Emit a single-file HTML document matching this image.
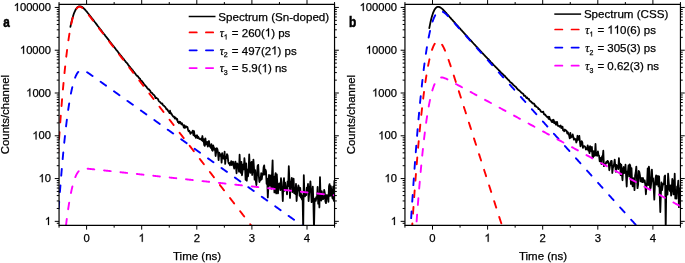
<!DOCTYPE html><html><head><meta charset="utf-8"><style>html,body{margin:0;padding:0;background:#fff;overflow:hidden}svg{display:block;will-change:transform}text{font-family:"Liberation Sans",sans-serif;stroke:#000;stroke-width:0.25px}</style></head><body>
<svg width="685" height="263" viewBox="0 0 685 263">
<defs>
<clipPath id="clipa"><rect x="59.05" y="4.35" width="275.5" height="221"/></clipPath>
<clipPath id="clipb"><rect x="404.95" y="4.35" width="275.5" height="221"/></clipPath>
</defs>
<rect width="685" height="263" fill="#fff"/>
<g clip-path="url(#clipa)" fill="none" stroke-width="1.9" stroke-linecap="round" stroke-linejoin="round">
<path d="M70.4,26.87 L71,23.92 L71.6,21.43 L72.2,19.05 L72.8,16.92 L73.4,15.02 L74,13.28 L74.6,11.82 L75.2,10.51 L75.8,9.46 L76.4,8.5 L77,7.74 L77.6,7.15 L78.2,6.72 L78.8,6.43 L79.4,6.3 L80,6.29 L80.6,6.38 L81.2,6.6 L81.8,6.88 L82.4,7.26 L83,7.73 L83.6,8.24 L84.2,8.79 L84.8,9.41 L85.4,10.08 L86,10.79 L86.6,11.46 L87.2,12.19 L87.8,12.96 L88.4,13.68 L89,14.46 L89.6,15.25 L90.2,16.03 L90.8,16.8 L91.4,17.59 L92,18.3 L92.6,19.17 L93.2,19.91 L93.8,20.67 L94.4,21.51 L95,22.31 L95.6,23.06 L96.2,23.82 L96.8,24.64 L97.4,25.42 L98,26.25 L98.6,27.01 L99.2,27.78 L99.8,28.59 L100.4,29.33 L101,30.08 L101.6,30.92 L102.2,31.7 L102.8,32.45 L103.4,33.2 L104,34.03 L104.6,34.68 L105.2,35.6 L105.8,36.37 L106.4,37.04 L107,37.9 L107.6,38.62 L108.2,39.49 L108.8,40.11 L109.4,40.94 L110,41.81 L110.6,42.6 L111.2,43.17 L111.8,44.05 L112.4,44.87 L113,45.58 L113.6,46.48 L114.2,47.07 L114.8,47.95 L115.4,48.61 L116,49.55 L116.6,50.22 L117.2,50.95 L117.8,51.59 L118.4,52.63 L119,53.32 L119.6,54.08 L120.2,54.88 L120.8,55.57 L121.4,56.23 L122,56.97 L122.6,57.72 L123.2,58.69 L123.8,59.14 L124.4,59.99 L125,60.78 L125.6,61.59 L126.2,62.37 L126.8,62.89 L127.4,63.57 L128,64.55 L128.6,65.44 L129.2,66.13 L129.8,66.8 L130.4,67.47 L131,68.3 L131.6,68.95 L132.2,69.85 L132.8,70.32 L133.4,71.22 L134,71.91 L134.6,72.74 L135.2,73.42 L135.8,74.54 L136.4,75.1 L137,75.83 L137.6,75.84 L138.2,76.93 L138.8,77.59 L139.4,78.55 L140,78.61 L140.6,80.12 L141.2,80.82 L141.8,80.96 L142.4,81.75 L143,82.5 L143.6,83.44 L144.2,84.29 L144.8,85.35 L145.4,85.47 L146,86.44 L146.6,86.97 L147.2,88.12 L147.8,88.53 L148.4,89.41 L149,89.31 L149.6,90.32 L150.2,90.77 L150.8,92.24 L151.4,92.66 L152,92.99 L152.6,93.6 L153.2,94.64 L153.8,94.83 L154.4,95.39 L155,96.67 L155.6,98.12 L156.2,97.69 L156.8,98.2 L157.4,98.53 L158,99.09 L158.6,100.68 L159.2,101.49 L159.8,101.75 L160.4,102.55 L161,103.1 L161.6,103.75 L162.2,103.38 L162.8,104.67 L163.4,105.65 L164,105.71 L164.6,106.53 L165.2,106.92 L165.8,107.87 L166.4,109.25 L167,109.05 L167.6,109.85 L168.2,111.12 L168.8,111.63 L169.4,112.97 L170,110.67 L170.6,113.63 L171.2,113.2 L171.8,114.32 L172.4,115.46 L173,116.26 L173.6,116.83 L174.2,116.72 L174.8,118.52 L175.4,117.47 L176,118.2 L176.6,119.63 L177.2,118.9 L177.8,122.07 L178.4,121.6 L179,123.31 L179.6,121.74 L180.2,121.87 L180.8,123.06 L181.4,124.22 L182,123.25 L182.6,124.97 L183.2,125.08 L183.8,127.49 L184.4,125.26 L185,127.97 L185.6,126.33 L186.2,126.38 L186.8,127.26 L187.4,127.03 L188,129.58 L188.6,131.29 L189.2,130.66 L189.8,131.82 L190.4,133.78 L191,132.37 L191.6,132.78 L192.2,132.51 L192.8,130.56 L193.4,135.19 L194,131.17 L194.6,136.06 L195.2,135.48 L195.8,137.89 L196.4,136.35 L197,135.26 L197.6,138.1 L198.2,136.73 L198.8,138.03 L199.4,138.98 L200,139.07 L200.6,139.41 L201.2,138.36 L201.8,140.34 L202.4,136.03 L203,141.33 L203.6,139.15 L204.2,145.04 L204.8,145.86 L205.4,138.36 L206,144.33 L206.6,144.1 L207.2,141.97 L207.8,146.6 L208.4,144.45 L209,141.03 L209.6,145.87 L210.2,146.65 L210.8,147.8 L211.4,144.1 L212,150.03 L212.6,150.8 L213.2,145.48 L213.8,147.47 L214.4,149.81 L215,148.55 L215.6,156 L216.2,151.95 L216.8,148.1 L217.4,149.27 L218,152.35 L218.6,160.19 L219.2,152.69 L219.8,154.19 L220.4,155.87 L221,154.41 L221.6,162.7 L222.2,153.17 L222.8,158.35 L223.4,156.71 L224,158.76 L224.6,151.77 L225.2,163.84 L225.8,157.14 L226.4,158.19 L227,154.11 L227.6,155.39 L228.2,161.43 L228.8,163.53 L229.4,163 L230,165.3 L230.6,163.66 L231.2,161.15 L231.8,164.99 L232.4,164.34 L233,161.58 L233.6,165.72 L234.2,168.66 L234.8,164.26 L235.4,161.54 L236,167.27 L236.6,173.32 L237.2,163.35 L237.8,164.37 L238.4,164.45 L239,171.75 L239.6,154.71 L240.2,168.16 L240.8,172.84 L241.4,161.78 L242,175.24 L242.6,170.5 L243.2,164.31 L243.8,169.39 L244.4,158.23 L245,165.04 L245.6,179.73 L246.2,163.29 L246.8,180.72 L247.4,169.58 L248,176.47 L248.6,171.05 L249.2,154.5 L249.8,167.11 L250.4,172.9 L251,163.19 L251.6,161.87 L252.2,175 L252.8,167.76 L253.4,159.62 L254,167.95 L254.6,179.64 L255.2,170.21 L255.8,180.71 L256.4,185.03 L257,175.15 L257.6,165.99 L258.2,164.87 L258.8,175.55 L259.4,182.03 L260,178.14 L260.6,180.31 L261.2,173.24 L261.8,179.16 L262.4,173.54 L263,174.99 L263.6,167.37 L264.2,165.34 L264.8,174.5 L265.4,169.65 L266,171.11 L266.6,183.75 L267.2,178.56 L267.8,197.37 L268.4,186.23 L269,175.01 L269.6,185.71 L270.2,183.08 L270.8,175.3 L271.4,188.62 L272,175.03 L272.6,160.38 L273.2,187.22 L273.8,177.01 L274.4,192.38 L275,177.19 L275.6,173.08 L276.2,193.46 L276.8,174.38 L277.4,184.75 L278,193.44 L278.6,184.57 L279.2,183.34 L279.8,184.9 L280.4,190.11 L281,178.03 L281.6,188.96 L282.2,188.93 L282.8,201.07 L283.4,182.65 L284,178.13 L284.6,190.79 L285.2,182.73 L285.8,188.12 L286.4,187.24 L287,194.47 L287.6,181.34 L288.2,186.13 L288.8,166.23 L289.4,179.97 L290,197.85 L290.6,182.01 L291.2,182.02 L291.8,177.97 L292.4,192.02 L293,189.45 L293.6,178.71 L294.2,193.09 L294.8,190.48 L295.4,194 L296,183.79 L296.6,200.99 L297.2,192.11 L297.8,188.51 L298.4,185.38 L299,187.76 L299.6,195.74 L300.2,187.84 L300.8,197.51 L301.4,194.26 L302,199.6 L302.6,196.12 L303.2,230.35 L303.8,175.26 L304.4,193 L305,196.46 L305.6,192.32 L306.2,195.12 L306.8,187.61 L307.4,188.47 L308,184.01 L308.6,201.07 L309.2,193 L309.8,188.02 L310.4,181.28 L311,191.01 L311.6,202.17 L312.2,195.61 L312.8,186.66 L313.4,202.4 L314,230.35 L314.6,199.55 L315.2,198.34 L315.8,200.93 L316.4,196.86 L317,198.53 L317.6,186.99 L318.2,203.64 L318.8,195.11 L319.4,207.39 L320,177.05 L320.6,198.6 L321.2,200.56 L321.8,191.17 L322.4,197.12 L323,199.22 L323.6,198.13 L324.2,189.88 L324.8,193.2 L325.4,201.37 L326,203.2 L326.6,195.26 L327.2,195.18 L327.8,196.09 L328.4,201.85 L329,186.26 L329.6,184.09 L330.2,195.84 L330.8,186.03 L331.4,190.33 L332,195.78 L332.6,198.53 L333.2,186.56 L333.8,200.82 L334.4,180.96 L335,199.2" stroke="#000" stroke-width="1.8"/>
<path d="M57.05,170.06 L57.55,162.06 L58.05,154.27 L58.55,146.7 L59.05,139.34 L59.55,132.2 L60.05,125.27 L60.55,118.55 L61.05,112.04 L61.55,105.75 L62.05,99.67 L62.55,93.8 L63.05,88.14 L63.55,82.68 L64.05,77.44 L64.55,72.4 L65.05,67.56 L65.55,62.93 L66.05,58.5 L66.55,54.28 L67.05,50.25 L67.55,46.42 L68.05,42.79 L68.55,39.35 L69.05,36.11 L69.55,33.06 L70.05,30.19 L70.55,27.51 L71.05,25.02 L71.55,22.7 L72.05,20.57 L72.55,18.6 L73.05,16.81 L73.55,15.18 L74.05,13.71 L74.55,12.4 L75.05,11.25 L75.55,10.24 L76.05,9.37 L76.55,8.64 L77.05,8.04 L77.55,7.57 L78.05,7.21 L78.55,6.96 L79.05,6.82 L79.55,6.77 L80.05,6.81 L80.55,6.93 L81.05,7.13 L81.55,7.4 L82.05,7.72 L82.55,8.1 L83.05,8.52 L83.55,8.99 L84.05,9.48 L84.55,10.01 L85.05,10.56 L85.55,11.14 L86.05,11.73 L86.55,12.33 L87.05,12.94 L87.55,13.57 L88.05,14.2 L88.55,14.83 L89.05,15.47 L89.55,16.11 L90.05,16.75 L90.55,17.39 L91.05,18.04 L91.55,18.69 L92.05,19.33 L92.55,19.98 L93.05,20.63 L93.55,21.27 L94.05,21.92 L94.55,22.57 L95.05,23.22 L95.55,23.87 L96.05,24.51 L96.55,25.16 L97.05,25.81 L97.55,26.46 L98.05,27.1 L98.55,27.75 L99.05,28.4 L99.55,29.05 L100.05,29.7 L100.55,30.34 L101.05,30.99 L101.55,31.64 L102.05,32.29 L102.55,32.94 L103.05,33.58 L103.55,34.23 L104.05,34.88 L104.55,35.53 L105.05,36.17 L105.55,36.82 L106.05,37.47 L106.55,38.12 L107.05,38.77 L107.55,39.41 L108.05,40.06 L108.55,40.71 L109.05,41.36 L109.55,42 L110.05,42.65 L110.55,43.3 L111.05,43.95 L111.55,44.6 L112.05,45.24 L112.55,45.89 L113.05,46.54 L113.55,47.19 L114.05,47.83 L114.55,48.48 L115.05,49.13 L115.55,49.78 L116.05,50.43 L116.55,51.07 L117.05,51.72 L117.55,52.37 L118.05,53.02 L118.55,53.67 L119.05,54.31 L119.55,54.96 L120.05,55.61 L120.55,56.26 L121.05,56.9 L121.55,57.55 L122.05,58.2 L122.55,58.85 L123.05,59.5 L123.55,60.14 L124.05,60.79 L124.55,61.44 L125.05,62.09 L125.55,62.73 L126.05,63.38 L126.55,64.03 L127.05,64.68 L127.55,65.33 L128.05,65.97 L128.55,66.62 L129.05,67.27 L129.55,67.92 L130.05,68.57 L130.55,69.21 L131.05,69.86 L131.55,70.51 L132.05,71.16 L132.55,71.8 L133.05,72.45 L133.55,73.1 L134.05,73.75 L134.55,74.4 L135.05,75.04 L135.55,75.69 L136.05,76.34 L136.55,76.99 L137.05,77.63 L137.55,78.28 L138.05,78.93 L138.55,79.58 L139.05,80.23 L139.55,80.87 L140.05,81.52 L140.55,82.17 L141.05,82.82 L141.55,83.47 L142.05,84.11 L142.55,84.76 L143.05,85.41 L143.55,86.06 L144.05,86.7 L144.55,87.35 L145.05,88 L145.55,88.65 L146.05,89.3 L146.55,89.94 L147.05,90.59 L147.55,91.24 L148.05,91.89 L148.55,92.53 L149.05,93.18 L149.55,93.83 L150.05,94.48 L150.55,95.13 L151.05,95.77 L151.55,96.42 L152.05,97.07 L152.55,97.72 L153.05,98.37 L153.55,99.01 L154.05,99.66 L154.55,100.31 L155.05,100.96 L155.55,101.6 L156.05,102.25 L156.55,102.9 L157.05,103.55 L157.55,104.2 L158.05,104.84 L158.55,105.49 L159.05,106.14 L159.55,106.79 L160.05,107.43 L160.55,108.08 L161.05,108.73 L161.55,109.38 L162.05,110.03 L162.55,110.67 L163.05,111.32 L163.55,111.97 L164.05,112.62 L164.55,113.26 L165.05,113.91 L165.55,114.56 L166.05,115.21 L166.55,115.86 L167.05,116.5 L167.55,117.15 L168.05,117.8 L168.55,118.45 L169.05,119.1 L169.55,119.74 L170.05,120.39 L170.55,121.04 L171.05,121.69 L171.55,122.33 L172.05,122.98 L172.55,123.63 L173.05,124.28 L173.55,124.93 L174.05,125.57 L174.55,126.22 L175.05,126.87 L175.55,127.52 L176.05,128.16 L176.55,128.81 L177.05,129.46 L177.55,130.11 L178.05,130.76 L178.55,131.4 L179.05,132.05 L179.55,132.7 L180.05,133.35 L180.55,134 L181.05,134.64 L181.55,135.29 L182.05,135.94 L182.55,136.59 L183.05,137.23 L183.55,137.88 L184.05,138.53 L184.55,139.18 L185.05,139.83 L185.55,140.47 L186.05,141.12 L186.55,141.77 L187.05,142.42 L187.55,143.06 L188.05,143.71 L188.55,144.36 L189.05,145.01 L189.55,145.66 L190.05,146.3 L190.55,146.95 L191.05,147.6 L191.55,148.25 L192.05,148.9 L192.55,149.54 L193.05,150.19 L193.55,150.84 L194.05,151.49 L194.55,152.13 L195.05,152.78 L195.55,153.43 L196.05,154.08 L196.55,154.73 L197.05,155.37 L197.55,156.02 L198.05,156.67 L198.55,157.32 L199.05,157.96 L199.55,158.61 L200.05,159.26 L200.55,159.91 L201.05,160.56 L201.55,161.2 L202.05,161.85 L202.55,162.5 L203.05,163.15 L203.55,163.79 L204.05,164.44 L204.55,165.09 L205.05,165.74 L205.55,166.39 L206.05,167.03 L206.55,167.68 L207.05,168.33 L207.55,168.98 L208.05,169.63 L208.55,170.27 L209.05,170.92 L209.55,171.57 L210.05,172.22 L210.55,172.86 L211.05,173.51 L211.55,174.16 L212.05,174.81 L212.55,175.46 L213.05,176.1 L213.55,176.75 L214.05,177.4 L214.55,178.05 L215.05,178.69 L215.55,179.34 L216.05,179.99 L216.55,180.64 L217.05,181.29 L217.55,181.93 L218.05,182.58 L218.55,183.23 L219.05,183.88 L219.55,184.53 L220.05,185.17 L220.55,185.82 L221.05,186.47 L221.55,187.12 L222.05,187.76 L222.55,188.41 L223.05,189.06 L223.55,189.71 L224.05,190.36 L224.55,191 L225.05,191.65 L225.55,192.3 L226.05,192.95 L226.55,193.59 L227.05,194.24 L227.55,194.89 L228.05,195.54 L228.55,196.19 L229.05,196.83 L229.55,197.48 L230.05,198.13 L230.55,198.78 L231.05,199.43 L231.55,200.07 L232.05,200.72 L232.55,201.37 L233.05,202.02 L233.55,202.66 L234.05,203.31 L234.55,203.96 L235.05,204.61 L235.55,205.26 L236.05,205.9 L236.55,206.55 L237.05,207.2 L237.55,207.85 L238.05,208.49 L238.55,209.14 L239.05,209.79 L239.55,210.44 L240.05,211.09 L240.55,211.73 L241.05,212.38 L241.55,213.03 L242.05,213.68 L242.55,214.32 L243.05,214.97 L243.55,215.62 L244.05,216.27 L244.55,216.92 L245.05,217.56 L245.55,218.21 L246.05,218.86 L246.55,219.51 L247.05,220.16 L247.55,220.8 L248.05,221.45 L248.55,222.1 L249.05,222.75 L249.55,223.39 L250.05,224.04 L250.55,224.69 L251.05,225.34 L251.55,225.99 L252.05,226.63 L252.55,227.28 L253.05,227.93 L253.55,228.58 L254.05,229.22 L254.55,229.87 L255.05,230.35 L255.55,230.35 L256.05,230.35 L256.55,230.35 L257.05,230.35 L257.55,230.35 L258.05,230.35 L258.55,230.35 L259.05,230.35 L259.55,230.35 L260.05,230.35 L260.55,230.35 L261.05,230.35 L261.55,230.35 L262.05,230.35 L262.55,230.35 L263.05,230.35 L263.55,230.35 L264.05,230.35 L264.55,230.35 L265.05,230.35 L265.55,230.35 L266.05,230.35 L266.55,230.35 L267.05,230.35 L267.55,230.35 L268.05,230.35 L268.55,230.35 L269.05,230.35 L269.55,230.35 L270.05,230.35 L270.55,230.35 L271.05,230.35 L271.55,230.35 L272.05,230.35 L272.55,230.35 L273.05,230.35 L273.55,230.35 L274.05,230.35 L274.55,230.35 L275.05,230.35 L275.55,230.35 L276.05,230.35 L276.55,230.35 L277.05,230.35 L277.55,230.35 L278.05,230.35 L278.55,230.35 L279.05,230.35 L279.55,230.35 L280.05,230.35 L280.55,230.35 L281.05,230.35 L281.55,230.35 L282.05,230.35 L282.55,230.35 L283.05,230.35 L283.55,230.35 L284.05,230.35 L284.55,230.35 L285.05,230.35 L285.55,230.35 L286.05,230.35 L286.55,230.35 L287.05,230.35 L287.55,230.35 L288.05,230.35 L288.55,230.35 L289.05,230.35 L289.55,230.35 L290.05,230.35 L290.55,230.35 L291.05,230.35 L291.55,230.35 L292.05,230.35 L292.55,230.35 L293.05,230.35 L293.55,230.35 L294.05,230.35 L294.55,230.35 L295.05,230.35 L295.55,230.35 L296.05,230.35 L296.55,230.35 L297.05,230.35 L297.55,230.35 L298.05,230.35 L298.55,230.35 L299.05,230.35 L299.55,230.35 L300.05,230.35 L300.55,230.35 L301.05,230.35 L301.55,230.35 L302.05,230.35 L302.55,230.35 L303.05,230.35 L303.55,230.35 L304.05,230.35 L304.55,230.35 L305.05,230.35 L305.55,230.35 L306.05,230.35 L306.55,230.35 L307.05,230.35 L307.55,230.35 L308.05,230.35 L308.55,230.35 L309.05,230.35 L309.55,230.35 L310.05,230.35 L310.55,230.35 L311.05,230.35 L311.55,230.35 L312.05,230.35 L312.55,230.35 L313.05,230.35 L313.55,230.35 L314.05,230.35 L314.55,230.35 L315.05,230.35 L315.55,230.35 L316.05,230.35 L316.55,230.35 L317.05,230.35 L317.55,230.35 L318.05,230.35 L318.55,230.35 L319.05,230.35 L319.55,230.35 L320.05,230.35 L320.55,230.35 L321.05,230.35 L321.55,230.35 L322.05,230.35 L322.55,230.35 L323.05,230.35 L323.55,230.35 L324.05,230.35 L324.55,230.35 L325.05,230.35 L325.55,230.35 L326.05,230.35 L326.55,230.35 L327.05,230.35 L327.55,230.35 L328.05,230.35 L328.55,230.35 L329.05,230.35 L329.55,230.35 L330.05,230.35 L330.55,230.35 L331.05,230.35 L331.55,230.35 L332.05,230.35 L332.55,230.35 L333.05,230.35 L333.55,230.35 L334.05,230.35 L334.55,230.35 L335.05,230.35 L335.55,230.35 L336.05,230.35 L336.55,230.35" stroke="#ff0000" stroke-dasharray="6.7 9.8" stroke-dashoffset="1.73"/>
<path d="M57.05,230.35 L57.55,224.95 L58.05,217.63 L58.55,210.51 L59.05,203.57 L59.55,196.83 L60.05,190.28 L60.55,183.93 L61.05,177.76 L61.55,171.78 L62.05,165.99 L62.55,160.39 L63.05,154.97 L63.55,149.74 L64.05,144.7 L64.55,139.84 L65.05,135.17 L65.55,130.68 L66.05,126.37 L66.55,122.24 L67.05,118.28 L67.55,114.51 L68.05,110.91 L68.55,107.49 L69.05,104.24 L69.55,101.16 L70.05,98.24 L70.55,95.5 L71.05,92.91 L71.55,90.49 L72.05,88.23 L72.55,86.12 L73.05,84.17 L73.55,82.37 L74.05,80.71 L74.55,79.19 L75.05,77.81 L75.55,76.57 L76.05,75.45 L76.55,74.46 L77.05,73.59 L77.55,72.83 L78.05,72.18 L78.55,71.63 L79.05,71.18 L79.55,70.82 L80.05,70.55 L80.55,70.35 L81.05,70.22 L81.55,70.16 L82.05,70.16 L82.55,70.21 L83.05,70.31 L83.55,70.46 L84.05,70.63 L84.55,70.85 L85.05,71.08 L85.55,71.34 L86.05,71.62 L86.55,71.92 L87.05,72.23 L87.55,72.55 L88.05,72.88 L88.55,73.21 L89.05,73.55 L89.55,73.9 L90.05,74.25 L90.55,74.6 L91.05,74.95 L91.55,75.3 L92.05,75.66 L92.55,76.01 L93.05,76.37 L93.55,76.72 L94.05,77.08 L94.55,77.44 L95.05,77.79 L95.55,78.15 L96.05,78.51 L96.55,78.86 L97.05,79.22 L97.55,79.58 L98.05,79.93 L98.55,80.29 L99.05,80.65 L99.55,81 L100.05,81.36 L100.55,81.72 L101.05,82.07 L101.55,82.43 L102.05,82.79 L102.55,83.14 L103.05,83.5 L103.55,83.86 L104.05,84.21 L104.55,84.57 L105.05,84.93 L105.55,85.28 L106.05,85.64 L106.55,86 L107.05,86.35 L107.55,86.71 L108.05,87.07 L108.55,87.42 L109.05,87.78 L109.55,88.14 L110.05,88.49 L110.55,88.85 L111.05,89.21 L111.55,89.56 L112.05,89.92 L112.55,90.28 L113.05,90.63 L113.55,90.99 L114.05,91.35 L114.55,91.7 L115.05,92.06 L115.55,92.42 L116.05,92.77 L116.55,93.13 L117.05,93.49 L117.55,93.84 L118.05,94.2 L118.55,94.56 L119.05,94.91 L119.55,95.27 L120.05,95.63 L120.55,95.98 L121.05,96.34 L121.55,96.7 L122.05,97.05 L122.55,97.41 L123.05,97.77 L123.55,98.12 L124.05,98.48 L124.55,98.84 L125.05,99.19 L125.55,99.55 L126.05,99.91 L126.55,100.26 L127.05,100.62 L127.55,100.98 L128.05,101.33 L128.55,101.69 L129.05,102.05 L129.55,102.4 L130.05,102.76 L130.55,103.12 L131.05,103.47 L131.55,103.83 L132.05,104.19 L132.55,104.54 L133.05,104.9 L133.55,105.26 L134.05,105.61 L134.55,105.97 L135.05,106.33 L135.55,106.68 L136.05,107.04 L136.55,107.4 L137.05,107.75 L137.55,108.11 L138.05,108.47 L138.55,108.82 L139.05,109.18 L139.55,109.54 L140.05,109.89 L140.55,110.25 L141.05,110.61 L141.55,110.96 L142.05,111.32 L142.55,111.68 L143.05,112.03 L143.55,112.39 L144.05,112.75 L144.55,113.1 L145.05,113.46 L145.55,113.82 L146.05,114.17 L146.55,114.53 L147.05,114.89 L147.55,115.24 L148.05,115.6 L148.55,115.96 L149.05,116.31 L149.55,116.67 L150.05,117.03 L150.55,117.38 L151.05,117.74 L151.55,118.1 L152.05,118.45 L152.55,118.81 L153.05,119.17 L153.55,119.52 L154.05,119.88 L154.55,120.24 L155.05,120.59 L155.55,120.95 L156.05,121.31 L156.55,121.66 L157.05,122.02 L157.55,122.38 L158.05,122.73 L158.55,123.09 L159.05,123.45 L159.55,123.81 L160.05,124.16 L160.55,124.52 L161.05,124.88 L161.55,125.23 L162.05,125.59 L162.55,125.95 L163.05,126.3 L163.55,126.66 L164.05,127.02 L164.55,127.37 L165.05,127.73 L165.55,128.09 L166.05,128.44 L166.55,128.8 L167.05,129.16 L167.55,129.51 L168.05,129.87 L168.55,130.23 L169.05,130.58 L169.55,130.94 L170.05,131.3 L170.55,131.65 L171.05,132.01 L171.55,132.37 L172.05,132.72 L172.55,133.08 L173.05,133.44 L173.55,133.79 L174.05,134.15 L174.55,134.51 L175.05,134.86 L175.55,135.22 L176.05,135.58 L176.55,135.93 L177.05,136.29 L177.55,136.65 L178.05,137 L178.55,137.36 L179.05,137.72 L179.55,138.07 L180.05,138.43 L180.55,138.79 L181.05,139.14 L181.55,139.5 L182.05,139.86 L182.55,140.21 L183.05,140.57 L183.55,140.93 L184.05,141.28 L184.55,141.64 L185.05,142 L185.55,142.35 L186.05,142.71 L186.55,143.07 L187.05,143.42 L187.55,143.78 L188.05,144.14 L188.55,144.49 L189.05,144.85 L189.55,145.21 L190.05,145.56 L190.55,145.92 L191.05,146.28 L191.55,146.63 L192.05,146.99 L192.55,147.35 L193.05,147.7 L193.55,148.06 L194.05,148.42 L194.55,148.77 L195.05,149.13 L195.55,149.49 L196.05,149.84 L196.55,150.2 L197.05,150.56 L197.55,150.91 L198.05,151.27 L198.55,151.63 L199.05,151.98 L199.55,152.34 L200.05,152.7 L200.55,153.05 L201.05,153.41 L201.55,153.77 L202.05,154.12 L202.55,154.48 L203.05,154.84 L203.55,155.19 L204.05,155.55 L204.55,155.91 L205.05,156.26 L205.55,156.62 L206.05,156.98 L206.55,157.33 L207.05,157.69 L207.55,158.05 L208.05,158.4 L208.55,158.76 L209.05,159.12 L209.55,159.47 L210.05,159.83 L210.55,160.19 L211.05,160.54 L211.55,160.9 L212.05,161.26 L212.55,161.61 L213.05,161.97 L213.55,162.33 L214.05,162.68 L214.55,163.04 L215.05,163.4 L215.55,163.75 L216.05,164.11 L216.55,164.47 L217.05,164.82 L217.55,165.18 L218.05,165.54 L218.55,165.89 L219.05,166.25 L219.55,166.61 L220.05,166.96 L220.55,167.32 L221.05,167.68 L221.55,168.03 L222.05,168.39 L222.55,168.75 L223.05,169.1 L223.55,169.46 L224.05,169.82 L224.55,170.17 L225.05,170.53 L225.55,170.89 L226.05,171.25 L226.55,171.6 L227.05,171.96 L227.55,172.32 L228.05,172.67 L228.55,173.03 L229.05,173.39 L229.55,173.74 L230.05,174.1 L230.55,174.46 L231.05,174.81 L231.55,175.17 L232.05,175.53 L232.55,175.88 L233.05,176.24 L233.55,176.6 L234.05,176.95 L234.55,177.31 L235.05,177.67 L235.55,178.02 L236.05,178.38 L236.55,178.74 L237.05,179.09 L237.55,179.45 L238.05,179.81 L238.55,180.16 L239.05,180.52 L239.55,180.88 L240.05,181.23 L240.55,181.59 L241.05,181.95 L241.55,182.3 L242.05,182.66 L242.55,183.02 L243.05,183.37 L243.55,183.73 L244.05,184.09 L244.55,184.44 L245.05,184.8 L245.55,185.16 L246.05,185.51 L246.55,185.87 L247.05,186.23 L247.55,186.58 L248.05,186.94 L248.55,187.3 L249.05,187.65 L249.55,188.01 L250.05,188.37 L250.55,188.72 L251.05,189.08 L251.55,189.44 L252.05,189.79 L252.55,190.15 L253.05,190.51 L253.55,190.86 L254.05,191.22 L254.55,191.58 L255.05,191.93 L255.55,192.29 L256.05,192.65 L256.55,193 L257.05,193.36 L257.55,193.72 L258.05,194.07 L258.55,194.43 L259.05,194.79 L259.55,195.14 L260.05,195.5 L260.55,195.86 L261.05,196.21 L261.55,196.57 L262.05,196.93 L262.55,197.28 L263.05,197.64 L263.55,198 L264.05,198.35 L264.55,198.71 L265.05,199.07 L265.55,199.42 L266.05,199.78 L266.55,200.14 L267.05,200.49 L267.55,200.85 L268.05,201.21 L268.55,201.56 L269.05,201.92 L269.55,202.28 L270.05,202.63 L270.55,202.99 L271.05,203.35 L271.55,203.7 L272.05,204.06 L272.55,204.42 L273.05,204.77 L273.55,205.13 L274.05,205.49 L274.55,205.84 L275.05,206.2 L275.55,206.56 L276.05,206.91 L276.55,207.27 L277.05,207.63 L277.55,207.98 L278.05,208.34 L278.55,208.7 L279.05,209.05 L279.55,209.41 L280.05,209.77 L280.55,210.12 L281.05,210.48 L281.55,210.84 L282.05,211.19 L282.55,211.55 L283.05,211.91 L283.55,212.26 L284.05,212.62 L284.55,212.98 L285.05,213.33 L285.55,213.69 L286.05,214.05 L286.55,214.4 L287.05,214.76 L287.55,215.12 L288.05,215.47 L288.55,215.83 L289.05,216.19 L289.55,216.54 L290.05,216.9 L290.55,217.26 L291.05,217.61 L291.55,217.97 L292.05,218.33 L292.55,218.69 L293.05,219.04 L293.55,219.4 L294.05,219.76 L294.55,220.11 L295.05,220.47 L295.55,220.83 L296.05,221.18 L296.55,221.54 L297.05,221.9 L297.55,222.25 L298.05,222.61 L298.55,222.97 L299.05,223.32 L299.55,223.68 L300.05,224.04 L300.55,224.39 L301.05,224.75 L301.55,225.11 L302.05,225.46 L302.55,225.82 L303.05,226.18 L303.55,226.53 L304.05,226.89 L304.55,227.25 L305.05,227.6 L305.55,227.96 L306.05,228.32 L306.55,228.67 L307.05,229.03 L307.55,229.39 L308.05,229.74 L308.55,230.1 L309.05,230.35 L309.55,230.35 L310.05,230.35 L310.55,230.35 L311.05,230.35 L311.55,230.35 L312.05,230.35 L312.55,230.35 L313.05,230.35 L313.55,230.35 L314.05,230.35 L314.55,230.35 L315.05,230.35 L315.55,230.35 L316.05,230.35 L316.55,230.35 L317.05,230.35 L317.55,230.35 L318.05,230.35 L318.55,230.35 L319.05,230.35 L319.55,230.35 L320.05,230.35 L320.55,230.35 L321.05,230.35 L321.55,230.35 L322.05,230.35 L322.55,230.35 L323.05,230.35 L323.55,230.35 L324.05,230.35 L324.55,230.35 L325.05,230.35 L325.55,230.35 L326.05,230.35 L326.55,230.35 L327.05,230.35 L327.55,230.35 L328.05,230.35 L328.55,230.35 L329.05,230.35 L329.55,230.35 L330.05,230.35 L330.55,230.35 L331.05,230.35 L331.55,230.35 L332.05,230.35 L332.55,230.35 L333.05,230.35 L333.55,230.35 L334.05,230.35 L334.55,230.35 L335.05,230.35 L335.55,230.35 L336.05,230.35 L336.55,230.35" stroke="#0000ff" stroke-dasharray="6.7 9.8" stroke-dashoffset="11.07"/>
<path d="M57.05,230.35 L57.55,230.35 L58.05,230.35 L58.55,230.35 L59.05,230.35 L59.55,230.35 L60.05,230.35 L60.55,230.35 L61.05,230.35 L61.55,230.35 L62.05,230.35 L62.55,230.35 L63.05,230.35 L63.55,230.35 L64.05,230.35 L64.55,230.35 L65.05,230.35 L65.55,229.07 L66.05,224.88 L66.55,220.86 L67.05,217.03 L67.55,213.36 L68.05,209.87 L68.55,206.55 L69.05,203.4 L69.55,200.42 L70.05,197.6 L70.55,194.95 L71.05,192.45 L71.55,190.11 L72.05,187.92 L72.55,185.88 L73.05,183.98 L73.55,182.22 L74.05,180.61 L74.55,179.12 L75.05,177.76 L75.55,176.53 L76.05,175.41 L76.55,174.41 L77.05,173.51 L77.55,172.71 L78.05,172 L78.55,171.39 L79.05,170.85 L79.55,170.39 L80.05,170 L80.55,169.67 L81.05,169.4 L81.55,169.18 L82.05,169 L82.55,168.86 L83.05,168.76 L83.55,168.68 L84.05,168.63 L84.55,168.6 L85.05,168.59 L85.55,168.59 L86.05,168.6 L86.55,168.63 L87.05,168.66 L87.55,168.69 L88.05,168.74 L88.55,168.78 L89.05,168.83 L89.55,168.88 L90.05,168.93 L90.55,168.98 L91.05,169.03 L91.55,169.08 L92.05,169.14 L92.55,169.19 L93.05,169.24 L93.55,169.3 L94.05,169.35 L94.55,169.41 L95.05,169.46 L95.55,169.51 L96.05,169.57 L96.55,169.62 L97.05,169.68 L97.55,169.73 L98.05,169.78 L98.55,169.84 L99.05,169.89 L99.55,169.95 L100.05,170 L100.55,170.06 L101.05,170.11 L101.55,170.16 L102.05,170.22 L102.55,170.27 L103.05,170.33 L103.55,170.38 L104.05,170.43 L104.55,170.49 L105.05,170.54 L105.55,170.6 L106.05,170.65 L106.55,170.71 L107.05,170.76 L107.55,170.81 L108.05,170.87 L108.55,170.92 L109.05,170.98 L109.55,171.03 L110.05,171.08 L110.55,171.14 L111.05,171.19 L111.55,171.25 L112.05,171.3 L112.55,171.35 L113.05,171.41 L113.55,171.46 L114.05,171.52 L114.55,171.57 L115.05,171.63 L115.55,171.68 L116.05,171.73 L116.55,171.79 L117.05,171.84 L117.55,171.9 L118.05,171.95 L118.55,172 L119.05,172.06 L119.55,172.11 L120.05,172.17 L120.55,172.22 L121.05,172.28 L121.55,172.33 L122.05,172.38 L122.55,172.44 L123.05,172.49 L123.55,172.55 L124.05,172.6 L124.55,172.65 L125.05,172.71 L125.55,172.76 L126.05,172.82 L126.55,172.87 L127.05,172.93 L127.55,172.98 L128.05,173.03 L128.55,173.09 L129.05,173.14 L129.55,173.2 L130.05,173.25 L130.55,173.3 L131.05,173.36 L131.55,173.41 L132.05,173.47 L132.55,173.52 L133.05,173.57 L133.55,173.63 L134.05,173.68 L134.55,173.74 L135.05,173.79 L135.55,173.85 L136.05,173.9 L136.55,173.95 L137.05,174.01 L137.55,174.06 L138.05,174.12 L138.55,174.17 L139.05,174.22 L139.55,174.28 L140.05,174.33 L140.55,174.39 L141.05,174.44 L141.55,174.5 L142.05,174.55 L142.55,174.6 L143.05,174.66 L143.55,174.71 L144.05,174.77 L144.55,174.82 L145.05,174.87 L145.55,174.93 L146.05,174.98 L146.55,175.04 L147.05,175.09 L147.55,175.14 L148.05,175.2 L148.55,175.25 L149.05,175.31 L149.55,175.36 L150.05,175.42 L150.55,175.47 L151.05,175.52 L151.55,175.58 L152.05,175.63 L152.55,175.69 L153.05,175.74 L153.55,175.79 L154.05,175.85 L154.55,175.9 L155.05,175.96 L155.55,176.01 L156.05,176.07 L156.55,176.12 L157.05,176.17 L157.55,176.23 L158.05,176.28 L158.55,176.34 L159.05,176.39 L159.55,176.44 L160.05,176.5 L160.55,176.55 L161.05,176.61 L161.55,176.66 L162.05,176.72 L162.55,176.77 L163.05,176.82 L163.55,176.88 L164.05,176.93 L164.55,176.99 L165.05,177.04 L165.55,177.09 L166.05,177.15 L166.55,177.2 L167.05,177.26 L167.55,177.31 L168.05,177.36 L168.55,177.42 L169.05,177.47 L169.55,177.53 L170.05,177.58 L170.55,177.64 L171.05,177.69 L171.55,177.74 L172.05,177.8 L172.55,177.85 L173.05,177.91 L173.55,177.96 L174.05,178.01 L174.55,178.07 L175.05,178.12 L175.55,178.18 L176.05,178.23 L176.55,178.29 L177.05,178.34 L177.55,178.39 L178.05,178.45 L178.55,178.5 L179.05,178.56 L179.55,178.61 L180.05,178.66 L180.55,178.72 L181.05,178.77 L181.55,178.83 L182.05,178.88 L182.55,178.94 L183.05,178.99 L183.55,179.04 L184.05,179.1 L184.55,179.15 L185.05,179.21 L185.55,179.26 L186.05,179.31 L186.55,179.37 L187.05,179.42 L187.55,179.48 L188.05,179.53 L188.55,179.58 L189.05,179.64 L189.55,179.69 L190.05,179.75 L190.55,179.8 L191.05,179.86 L191.55,179.91 L192.05,179.96 L192.55,180.02 L193.05,180.07 L193.55,180.13 L194.05,180.18 L194.55,180.23 L195.05,180.29 L195.55,180.34 L196.05,180.4 L196.55,180.45 L197.05,180.51 L197.55,180.56 L198.05,180.61 L198.55,180.67 L199.05,180.72 L199.55,180.78 L200.05,180.83 L200.55,180.88 L201.05,180.94 L201.55,180.99 L202.05,181.05 L202.55,181.1 L203.05,181.15 L203.55,181.21 L204.05,181.26 L204.55,181.32 L205.05,181.37 L205.55,181.43 L206.05,181.48 L206.55,181.53 L207.05,181.59 L207.55,181.64 L208.05,181.7 L208.55,181.75 L209.05,181.8 L209.55,181.86 L210.05,181.91 L210.55,181.97 L211.05,182.02 L211.55,182.08 L212.05,182.13 L212.55,182.18 L213.05,182.24 L213.55,182.29 L214.05,182.35 L214.55,182.4 L215.05,182.45 L215.55,182.51 L216.05,182.56 L216.55,182.62 L217.05,182.67 L217.55,182.73 L218.05,182.78 L218.55,182.83 L219.05,182.89 L219.55,182.94 L220.05,183 L220.55,183.05 L221.05,183.1 L221.55,183.16 L222.05,183.21 L222.55,183.27 L223.05,183.32 L223.55,183.37 L224.05,183.43 L224.55,183.48 L225.05,183.54 L225.55,183.59 L226.05,183.65 L226.55,183.7 L227.05,183.75 L227.55,183.81 L228.05,183.86 L228.55,183.92 L229.05,183.97 L229.55,184.02 L230.05,184.08 L230.55,184.13 L231.05,184.19 L231.55,184.24 L232.05,184.3 L232.55,184.35 L233.05,184.4 L233.55,184.46 L234.05,184.51 L234.55,184.57 L235.05,184.62 L235.55,184.67 L236.05,184.73 L236.55,184.78 L237.05,184.84 L237.55,184.89 L238.05,184.95 L238.55,185 L239.05,185.05 L239.55,185.11 L240.05,185.16 L240.55,185.22 L241.05,185.27 L241.55,185.32 L242.05,185.38 L242.55,185.43 L243.05,185.49 L243.55,185.54 L244.05,185.59 L244.55,185.65 L245.05,185.7 L245.55,185.76 L246.05,185.81 L246.55,185.87 L247.05,185.92 L247.55,185.97 L248.05,186.03 L248.55,186.08 L249.05,186.14 L249.55,186.19 L250.05,186.24 L250.55,186.3 L251.05,186.35 L251.55,186.41 L252.05,186.46 L252.55,186.52 L253.05,186.57 L253.55,186.62 L254.05,186.68 L254.55,186.73 L255.05,186.79 L255.55,186.84 L256.05,186.89 L256.55,186.95 L257.05,187 L257.55,187.06 L258.05,187.11 L258.55,187.17 L259.05,187.22 L259.55,187.27 L260.05,187.33 L260.55,187.38 L261.05,187.44 L261.55,187.49 L262.05,187.54 L262.55,187.6 L263.05,187.65 L263.55,187.71 L264.05,187.76 L264.55,187.81 L265.05,187.87 L265.55,187.92 L266.05,187.98 L266.55,188.03 L267.05,188.09 L267.55,188.14 L268.05,188.19 L268.55,188.25 L269.05,188.3 L269.55,188.36 L270.05,188.41 L270.55,188.46 L271.05,188.52 L271.55,188.57 L272.05,188.63 L272.55,188.68 L273.05,188.74 L273.55,188.79 L274.05,188.84 L274.55,188.9 L275.05,188.95 L275.55,189.01 L276.05,189.06 L276.55,189.11 L277.05,189.17 L277.55,189.22 L278.05,189.28 L278.55,189.33 L279.05,189.38 L279.55,189.44 L280.05,189.49 L280.55,189.55 L281.05,189.6 L281.55,189.66 L282.05,189.71 L282.55,189.76 L283.05,189.82 L283.55,189.87 L284.05,189.93 L284.55,189.98 L285.05,190.03 L285.55,190.09 L286.05,190.14 L286.55,190.2 L287.05,190.25 L287.55,190.31 L288.05,190.36 L288.55,190.41 L289.05,190.47 L289.55,190.52 L290.05,190.58 L290.55,190.63 L291.05,190.68 L291.55,190.74 L292.05,190.79 L292.55,190.85 L293.05,190.9 L293.55,190.96 L294.05,191.01 L294.55,191.06 L295.05,191.12 L295.55,191.17 L296.05,191.23 L296.55,191.28 L297.05,191.33 L297.55,191.39 L298.05,191.44 L298.55,191.5 L299.05,191.55 L299.55,191.6 L300.05,191.66 L300.55,191.71 L301.05,191.77 L301.55,191.82 L302.05,191.88 L302.55,191.93 L303.05,191.98 L303.55,192.04 L304.05,192.09 L304.55,192.15 L305.05,192.2 L305.55,192.25 L306.05,192.31 L306.55,192.36 L307.05,192.42 L307.55,192.47 L308.05,192.53 L308.55,192.58 L309.05,192.63 L309.55,192.69 L310.05,192.74 L310.55,192.8 L311.05,192.85 L311.55,192.9 L312.05,192.96 L312.55,193.01 L313.05,193.07 L313.55,193.12 L314.05,193.18 L314.55,193.23 L315.05,193.28 L315.55,193.34 L316.05,193.39 L316.55,193.45 L317.05,193.5 L317.55,193.55 L318.05,193.61 L318.55,193.66 L319.05,193.72 L319.55,193.77 L320.05,193.82 L320.55,193.88 L321.05,193.93 L321.55,193.99 L322.05,194.04 L322.55,194.1 L323.05,194.15 L323.55,194.2 L324.05,194.26 L324.55,194.31 L325.05,194.37 L325.55,194.42 L326.05,194.47 L326.55,194.53 L327.05,194.58 L327.55,194.64 L328.05,194.69 L328.55,194.75 L329.05,194.8 L329.55,194.85 L330.05,194.91 L330.55,194.96 L331.05,195.02 L331.55,195.07 L332.05,195.12 L332.55,195.18 L333.05,195.23 L333.55,195.29 L334.05,195.34 L334.55,195.39 L335.05,195.45 L335.55,195.5 L336.05,195.56 L336.55,195.61" stroke="#ff00ff" stroke-dasharray="6.7 9.8" stroke-dashoffset="3.64"/>
</g>
<g stroke="#000" fill="none">
<path d="M59.05,4.35 H334.55 V225.35 H59.05 Z" stroke-width="1.2"/>
<path d="M59.05,225.35 v2.3 M59.05,4.35 v-2.3" stroke-width="1"/>
<path d="M86.6,225.35 v4.3 M86.6,4.35 v-4.3" stroke-width="1"/>
<path d="M114.15,225.35 v2.3 M114.15,4.35 v-2.3" stroke-width="1"/>
<path d="M141.7,225.35 v4.3 M141.7,4.35 v-4.3" stroke-width="1"/>
<path d="M169.25,225.35 v2.3 M169.25,4.35 v-2.3" stroke-width="1"/>
<path d="M196.8,225.35 v4.3 M196.8,4.35 v-4.3" stroke-width="1"/>
<path d="M224.35,225.35 v2.3 M224.35,4.35 v-2.3" stroke-width="1"/>
<path d="M251.9,225.35 v4.3 M251.9,4.35 v-4.3" stroke-width="1"/>
<path d="M279.45,225.35 v2.3 M279.45,4.35 v-2.3" stroke-width="1"/>
<path d="M307,225.35 v4.3 M307,4.35 v-4.3" stroke-width="1"/>
<path d="M334.55,225.35 v2.3 M334.55,4.35 v-2.3" stroke-width="1"/>
<path d="M59.05,223.31 h-2.3 M334.55,223.31 h2.3" stroke-width="1"/>
<path d="M59.05,221.35 h-4.3 M334.55,221.35 h4.3" stroke-width="1"/>
<path d="M59.05,208.47 h-2.3 M334.55,208.47 h2.3" stroke-width="1"/>
<path d="M59.05,200.94 h-2.3 M334.55,200.94 h2.3" stroke-width="1"/>
<path d="M59.05,195.59 h-2.3 M334.55,195.59 h2.3" stroke-width="1"/>
<path d="M59.05,191.45 h-2.3 M334.55,191.45 h2.3" stroke-width="1"/>
<path d="M59.05,188.06 h-2.3 M334.55,188.06 h2.3" stroke-width="1"/>
<path d="M59.05,185.2 h-2.3 M334.55,185.2 h2.3" stroke-width="1"/>
<path d="M59.05,182.72 h-2.3 M334.55,182.72 h2.3" stroke-width="1"/>
<path d="M59.05,180.53 h-2.3 M334.55,180.53 h2.3" stroke-width="1"/>
<path d="M59.05,178.57 h-4.3 M334.55,178.57 h4.3" stroke-width="1"/>
<path d="M59.05,165.69 h-2.3 M334.55,165.69 h2.3" stroke-width="1"/>
<path d="M59.05,158.16 h-2.3 M334.55,158.16 h2.3" stroke-width="1"/>
<path d="M59.05,152.81 h-2.3 M334.55,152.81 h2.3" stroke-width="1"/>
<path d="M59.05,148.67 h-2.3 M334.55,148.67 h2.3" stroke-width="1"/>
<path d="M59.05,145.28 h-2.3 M334.55,145.28 h2.3" stroke-width="1"/>
<path d="M59.05,142.42 h-2.3 M334.55,142.42 h2.3" stroke-width="1"/>
<path d="M59.05,139.94 h-2.3 M334.55,139.94 h2.3" stroke-width="1"/>
<path d="M59.05,137.75 h-2.3 M334.55,137.75 h2.3" stroke-width="1"/>
<path d="M59.05,135.79 h-4.3 M334.55,135.79 h4.3" stroke-width="1"/>
<path d="M59.05,122.91 h-2.3 M334.55,122.91 h2.3" stroke-width="1"/>
<path d="M59.05,115.38 h-2.3 M334.55,115.38 h2.3" stroke-width="1"/>
<path d="M59.05,110.03 h-2.3 M334.55,110.03 h2.3" stroke-width="1"/>
<path d="M59.05,105.89 h-2.3 M334.55,105.89 h2.3" stroke-width="1"/>
<path d="M59.05,102.5 h-2.3 M334.55,102.5 h2.3" stroke-width="1"/>
<path d="M59.05,99.64 h-2.3 M334.55,99.64 h2.3" stroke-width="1"/>
<path d="M59.05,97.16 h-2.3 M334.55,97.16 h2.3" stroke-width="1"/>
<path d="M59.05,94.97 h-2.3 M334.55,94.97 h2.3" stroke-width="1"/>
<path d="M59.05,93.01 h-4.3 M334.55,93.01 h4.3" stroke-width="1"/>
<path d="M59.05,80.13 h-2.3 M334.55,80.13 h2.3" stroke-width="1"/>
<path d="M59.05,72.6 h-2.3 M334.55,72.6 h2.3" stroke-width="1"/>
<path d="M59.05,67.25 h-2.3 M334.55,67.25 h2.3" stroke-width="1"/>
<path d="M59.05,63.11 h-2.3 M334.55,63.11 h2.3" stroke-width="1"/>
<path d="M59.05,59.72 h-2.3 M334.55,59.72 h2.3" stroke-width="1"/>
<path d="M59.05,56.86 h-2.3 M334.55,56.86 h2.3" stroke-width="1"/>
<path d="M59.05,54.38 h-2.3 M334.55,54.38 h2.3" stroke-width="1"/>
<path d="M59.05,52.19 h-2.3 M334.55,52.19 h2.3" stroke-width="1"/>
<path d="M59.05,50.23 h-4.3 M334.55,50.23 h4.3" stroke-width="1"/>
<path d="M59.05,37.35 h-2.3 M334.55,37.35 h2.3" stroke-width="1"/>
<path d="M59.05,29.82 h-2.3 M334.55,29.82 h2.3" stroke-width="1"/>
<path d="M59.05,24.47 h-2.3 M334.55,24.47 h2.3" stroke-width="1"/>
<path d="M59.05,20.33 h-2.3 M334.55,20.33 h2.3" stroke-width="1"/>
<path d="M59.05,16.94 h-2.3 M334.55,16.94 h2.3" stroke-width="1"/>
<path d="M59.05,14.08 h-2.3 M334.55,14.08 h2.3" stroke-width="1"/>
<path d="M59.05,11.6 h-2.3 M334.55,11.6 h2.3" stroke-width="1"/>
<path d="M59.05,9.41 h-2.3 M334.55,9.41 h2.3" stroke-width="1"/>
<path d="M59.05,7.45 h-4.3 M334.55,7.45 h4.3" stroke-width="1"/>
</g>
<text x="51.05" y="224.95" font-size="11.2" text-anchor="end"> </text>
<text x="51.05" y="182.17" font-size="11.2" text-anchor="end"> 0</text>
<text x="51.05" y="139.39" font-size="11.2" text-anchor="end"> 00</text>
<text x="51.05" y="96.61" font-size="11.2" text-anchor="end"> 000</text>
<text x="51.05" y="53.83" font-size="11.2" text-anchor="end"> 0000</text>
<text x="51.05" y="11.05" font-size="11.2" text-anchor="end"> 00000</text>
<text x="86.6" y="241.8" font-size="11.3" text-anchor="middle">0</text>
<text x="141.7" y="241.8" font-size="11.3" text-anchor="middle"> </text>
<text x="196.8" y="241.8" font-size="11.3" text-anchor="middle">2</text>
<text x="251.9" y="241.8" font-size="11.3" text-anchor="middle">3</text>
<text x="307" y="241.8" font-size="11.3" text-anchor="middle">4</text>
<text x="197.1" y="260" font-size="11.5" text-anchor="middle">Time (ns)</text>
<g clip-path="url(#clipb)" fill="none" stroke-width="1.9" stroke-linecap="round" stroke-linejoin="round">
<path d="M429.3,28.2 L429.9,25.06 L430.5,22.18 L431.1,19.57 L431.7,17.27 L432.3,15.2 L432.9,13.42 L433.5,11.89 L434.1,10.53 L434.7,9.43 L435.3,8.56 L435.9,7.87 L436.5,7.35 L437.1,7 L437.7,6.83 L438.3,6.79 L438.9,6.84 L439.5,7.05 L440.1,7.31 L440.7,7.69 L441.3,8.12 L441.9,8.64 L442.5,9.16 L443.1,9.76 L443.7,10.37 L444.3,10.99 L444.9,11.58 L445.5,12.28 L446.1,12.95 L446.7,13.62 L447.3,14.26 L447.9,14.96 L448.5,15.62 L449.1,16.3 L449.7,17.02 L450.3,17.65 L450.9,18.35 L451.5,19.05 L452.1,19.69 L452.7,20.37 L453.3,21.05 L453.9,21.73 L454.5,22.36 L455.1,23.08 L455.7,23.78 L456.3,24.37 L456.9,25.11 L457.5,25.77 L458.1,26.41 L458.7,27.16 L459.3,27.79 L459.9,28.4 L460.5,29.11 L461.1,29.8 L461.7,30.44 L462.3,31.13 L462.9,31.77 L463.5,32.46 L464.1,33.16 L464.7,33.74 L465.3,34.44 L465.9,35.07 L466.5,35.76 L467.1,36.36 L467.7,37.05 L468.3,37.73 L468.9,38.44 L469.5,39.11 L470.1,39.64 L470.7,40.33 L471.3,41.06 L471.9,41.57 L472.5,42.31 L473.1,42.99 L473.7,43.72 L474.3,44.34 L474.9,44.93 L475.5,45.58 L476.1,46.24 L476.7,47 L477.3,47.52 L477.9,48.18 L478.5,48.87 L479.1,49.49 L479.7,50.13 L480.3,50.7 L480.9,51.43 L481.5,52.04 L482.1,52.81 L482.7,53.41 L483.3,54 L483.9,54.7 L484.5,55.25 L485.1,56.01 L485.7,56.56 L486.3,57.25 L486.9,57.69 L487.5,58.5 L488.1,58.91 L488.7,59.49 L489.3,60.33 L489.9,60.89 L490.5,61.65 L491.1,62.5 L491.7,62.78 L492.3,63.43 L492.9,64.17 L493.5,64.83 L494.1,65.37 L494.7,65.99 L495.3,66.73 L495.9,67.33 L496.5,67.72 L497.1,68.49 L497.7,69.13 L498.3,69.56 L498.9,70.39 L499.5,70.82 L500.1,71.74 L500.7,72.23 L501.3,72.83 L501.9,73.31 L502.5,74.01 L503.1,74.24 L503.7,75.02 L504.3,75.93 L504.9,76 L505.5,77.23 L506.1,77.28 L506.7,78.43 L507.3,78.68 L507.9,79.65 L508.5,80.11 L509.1,80.29 L509.7,81.56 L510.3,82.2 L510.9,82.46 L511.5,82.99 L512.1,83.62 L512.7,83.97 L513.3,85.12 L513.9,85.27 L514.5,86.01 L515.1,86.36 L515.7,87 L516.3,87.36 L516.9,88.73 L517.5,88.9 L518.1,89.82 L518.7,90.12 L519.3,90.44 L519.9,91.15 L520.5,91.63 L521.1,92.43 L521.7,92.85 L522.3,93.45 L522.9,93.57 L523.5,94.37 L524.1,95.9 L524.7,95.56 L525.3,95.94 L525.9,97.13 L526.5,98.13 L527.1,97.41 L527.7,98.59 L528.3,98.93 L528.9,98.89 L529.5,100.7 L530.1,100.92 L530.7,101.52 L531.3,101.62 L531.9,102.82 L532.5,102.83 L533.1,103.62 L533.7,103.57 L534.3,104.04 L534.9,106.07 L535.5,105.57 L536.1,106.61 L536.7,106.97 L537.3,107.23 L537.9,107.72 L538.5,109 L539.1,108.94 L539.7,109.58 L540.3,110.25 L540.9,111.54 L541.5,111.76 L542.1,112.1 L542.7,111.9 L543.3,111.73 L543.9,114.12 L544.5,114.68 L545.1,114.37 L545.7,115.44 L546.3,116.16 L546.9,116.73 L547.5,117.34 L548.1,116.66 L548.7,118.92 L549.3,116.86 L549.9,119.43 L550.5,119.63 L551.1,120.5 L551.7,121.97 L552.3,122.14 L552.9,119.91 L553.5,119.75 L554.1,123.08 L554.7,121.52 L555.3,123.26 L555.9,124.67 L556.5,122.15 L557.1,121.99 L557.7,125.58 L558.3,125.84 L558.9,125.95 L559.5,126.83 L560.1,126.03 L560.7,125.54 L561.3,128.02 L561.9,127.27 L562.5,126.69 L563.1,130.42 L563.7,130.14 L564.3,131.29 L564.9,129.55 L565.5,130.57 L566.1,130.44 L566.7,131.09 L567.3,133.44 L567.9,132.19 L568.5,134.66 L569.1,135.12 L569.7,138.33 L570.3,132.78 L570.9,137.5 L571.5,136.3 L572.1,136.92 L572.7,134.35 L573.3,136.9 L573.9,139.71 L574.5,138.64 L575.1,139.44 L575.7,139.08 L576.3,142.47 L576.9,140.62 L577.5,135.78 L578.1,139.88 L578.7,137.09 L579.3,135.85 L579.9,141.57 L580.5,146.35 L581.1,143.96 L581.7,141.1 L582.3,142.13 L582.9,147.86 L583.5,146.02 L584.1,146.2 L584.7,146.37 L585.3,147.07 L585.9,149.47 L586.5,149.28 L587.1,148.85 L587.7,145.36 L588.3,150.55 L588.9,147.3 L589.5,153.1 L590.1,146.07 L590.7,150.39 L591.3,151.27 L591.9,146.94 L592.5,157.39 L593.1,157.09 L593.7,151.23 L594.3,155.86 L594.9,155.04 L595.5,143.94 L596.1,155.48 L596.7,154.8 L597.3,155.75 L597.9,151.34 L598.5,155.12 L599.1,155.9 L599.7,161.43 L600.3,158.72 L600.9,157.85 L601.5,164.13 L602.1,156.08 L602.7,157.22 L603.3,150.72 L603.9,166.22 L604.5,164.2 L605.1,164.45 L605.7,163.84 L606.3,161.85 L606.9,162.7 L607.5,160.8 L608.1,161.42 L608.7,163.14 L609.3,170.23 L609.9,166.23 L610.5,163.67 L611.1,161.02 L611.7,161.02 L612.3,173 L612.9,167.98 L613.5,166.15 L614.1,164.03 L614.7,159.59 L615.3,166.44 L615.9,171.88 L616.5,165.01 L617.1,166.41 L617.7,166.77 L618.3,169.2 L618.9,158.04 L619.5,167.63 L620.1,163.61 L620.7,175.15 L621.3,164.72 L621.9,174.07 L622.5,180.24 L623.1,168.89 L623.7,167.01 L624.3,173.07 L624.9,172.15 L625.5,164.73 L626.1,175.82 L626.7,186.49 L627.3,171.32 L627.9,172.04 L628.5,165.47 L629.1,176.46 L629.7,164.41 L630.3,165.85 L630.9,183.87 L631.5,168.06 L632.1,183.09 L632.7,186.38 L633.3,178.06 L633.9,180.33 L634.5,190.12 L635.1,175.51 L635.7,172.54 L636.3,166.6 L636.9,178.19 L637.5,188.22 L638.1,184.95 L638.7,170.99 L639.3,171.95 L639.9,175.06 L640.5,181.41 L641.1,177.99 L641.7,181.36 L642.3,182.16 L642.9,177.94 L643.5,180.28 L644.1,182.24 L644.7,180.38 L645.3,184.72 L645.9,194.24 L646.5,185.76 L647.1,182.33 L647.7,168.4 L648.3,185.01 L648.9,166.7 L649.5,171.29 L650.1,188.8 L650.7,187.99 L651.3,182.17 L651.9,169.63 L652.5,180.75 L653.1,178.43 L653.7,188.48 L654.3,199.69 L654.9,186 L655.5,178.34 L656.1,175.33 L656.7,184.6 L657.3,183.78 L657.9,176 L658.5,186.35 L659.1,176.34 L659.7,193.45 L660.3,212 L660.9,193.58 L661.5,182.49 L662.1,190.01 L662.7,185.59 L663.3,183.64 L663.9,184.19 L664.5,176.5 L665.1,175.46 L665.7,230.35 L666.3,185.96 L666.9,189.13 L667.5,194.6 L668.1,173.77 L668.7,181.65 L669.3,189.36 L669.9,190.96 L670.5,185.34 L671.1,195.53 L671.7,190.08 L672.3,178.87 L672.9,181.29 L673.5,194.47 L674.1,192.26 L674.7,173.72 L675.3,198.48 L675.9,193.49 L676.5,198.66 L677.1,186.49 L677.7,187.31 L678.3,180.63 L678.9,207.17 L679.5,188.58 L680.1,200.9 L680.7,184.91 L681.3,191.39" stroke="#000" stroke-width="1.8"/>
<path d="M402.95,230.35 L403.45,230.35 L403.95,230.35 L404.45,230.35 L404.95,230.35 L405.45,230.35 L405.95,230.35 L406.45,230.35 L406.95,230.35 L407.45,230.35 L407.95,230.35 L408.45,230.35 L408.95,230.35 L409.45,230.35 L409.95,230.35 L410.45,230.35 L410.95,230.35 L411.45,230.35 L411.95,229.42 L412.45,221.9 L412.95,214.53 L413.45,207.33 L413.95,200.29 L414.45,193.4 L414.95,186.67 L415.45,180.11 L415.95,173.7 L416.45,167.45 L416.95,161.35 L417.45,155.42 L417.95,149.64 L418.45,144.02 L418.95,138.56 L419.45,133.25 L419.95,128.1 L420.45,123.11 L420.95,118.27 L421.45,113.58 L421.95,109.05 L422.45,104.68 L422.95,100.46 L423.45,96.39 L423.95,92.47 L424.45,88.71 L424.95,85.1 L425.45,81.64 L425.95,78.33 L426.45,75.17 L426.95,72.16 L427.45,69.3 L427.95,66.58 L428.45,64.01 L428.95,61.59 L429.45,59.31 L429.95,57.18 L430.45,55.18 L430.95,53.33 L431.45,51.62 L431.95,50.05 L432.45,48.61 L432.95,47.31 L433.45,46.14 L433.95,45.11 L434.45,44.21 L434.95,43.43 L435.45,42.78 L435.95,42.25 L436.45,41.85 L436.95,41.56 L437.45,41.39 L437.95,41.33 L438.45,41.39 L438.95,41.54 L439.45,41.81 L439.95,42.17 L440.45,42.63 L440.95,43.18 L441.45,43.82 L441.95,44.54 L442.45,45.34 L442.95,46.22 L443.45,47.17 L443.95,48.19 L444.45,49.26 L444.95,50.39 L445.45,51.58 L445.95,52.81 L446.45,54.09 L446.95,55.41 L447.45,56.76 L447.95,58.14 L448.45,59.55 L448.95,60.99 L449.45,62.44 L449.95,63.92 L450.45,65.4 L450.95,66.91 L451.45,68.42 L451.95,69.94 L452.45,71.47 L452.95,73 L453.45,74.54 L453.95,76.08 L454.45,77.63 L454.95,79.18 L455.45,80.73 L455.95,82.28 L456.45,83.83 L456.95,85.39 L457.45,86.94 L457.95,88.5 L458.45,90.05 L458.95,91.61 L459.45,93.16 L459.95,94.72 L460.45,96.28 L460.95,97.83 L461.45,99.39 L461.95,100.94 L462.45,102.5 L462.95,104.05 L463.45,105.61 L463.95,107.17 L464.45,108.72 L464.95,110.28 L465.45,111.83 L465.95,113.39 L466.45,114.95 L466.95,116.5 L467.45,118.06 L467.95,119.61 L468.45,121.17 L468.95,122.73 L469.45,124.28 L469.95,125.84 L470.45,127.39 L470.95,128.95 L471.45,130.51 L471.95,132.06 L472.45,133.62 L472.95,135.17 L473.45,136.73 L473.95,138.29 L474.45,139.84 L474.95,141.4 L475.45,142.95 L475.95,144.51 L476.45,146.07 L476.95,147.62 L477.45,149.18 L477.95,150.73 L478.45,152.29 L478.95,153.85 L479.45,155.4 L479.95,156.96 L480.45,158.51 L480.95,160.07 L481.45,161.63 L481.95,163.18 L482.45,164.74 L482.95,166.29 L483.45,167.85 L483.95,169.41 L484.45,170.96 L484.95,172.52 L485.45,174.07 L485.95,175.63 L486.45,177.19 L486.95,178.74 L487.45,180.3 L487.95,181.85 L488.45,183.41 L488.95,184.96 L489.45,186.52 L489.95,188.08 L490.45,189.63 L490.95,191.19 L491.45,192.74 L491.95,194.3 L492.45,195.86 L492.95,197.41 L493.45,198.97 L493.95,200.52 L494.45,202.08 L494.95,203.64 L495.45,205.19 L495.95,206.75 L496.45,208.3 L496.95,209.86 L497.45,211.42 L497.95,212.97 L498.45,214.53 L498.95,216.08 L499.45,217.64 L499.95,219.2 L500.45,220.75 L500.95,222.31 L501.45,223.86 L501.95,225.42 L502.45,226.98 L502.95,228.53 L503.45,230.09 L503.95,230.35 L504.45,230.35 L504.95,230.35 L505.45,230.35 L505.95,230.35 L506.45,230.35 L506.95,230.35 L507.45,230.35 L507.95,230.35 L508.45,230.35 L508.95,230.35 L509.45,230.35 L509.95,230.35 L510.45,230.35 L510.95,230.35 L511.45,230.35 L511.95,230.35 L512.45,230.35 L512.95,230.35 L513.45,230.35 L513.95,230.35 L514.45,230.35 L514.95,230.35 L515.45,230.35 L515.95,230.35 L516.45,230.35 L516.95,230.35 L517.45,230.35 L517.95,230.35 L518.45,230.35 L518.95,230.35 L519.45,230.35 L519.95,230.35 L520.45,230.35 L520.95,230.35 L521.45,230.35 L521.95,230.35 L522.45,230.35 L522.95,230.35 L523.45,230.35 L523.95,230.35 L524.45,230.35 L524.95,230.35 L525.45,230.35 L525.95,230.35 L526.45,230.35 L526.95,230.35 L527.45,230.35 L527.95,230.35 L528.45,230.35 L528.95,230.35 L529.45,230.35 L529.95,230.35 L530.45,230.35 L530.95,230.35 L531.45,230.35 L531.95,230.35 L532.45,230.35 L532.95,230.35 L533.45,230.35 L533.95,230.35 L534.45,230.35 L534.95,230.35 L535.45,230.35 L535.95,230.35 L536.45,230.35 L536.95,230.35 L537.45,230.35 L537.95,230.35 L538.45,230.35 L538.95,230.35 L539.45,230.35 L539.95,230.35 L540.45,230.35 L540.95,230.35 L541.45,230.35 L541.95,230.35 L542.45,230.35 L542.95,230.35 L543.45,230.35 L543.95,230.35 L544.45,230.35 L544.95,230.35 L545.45,230.35 L545.95,230.35 L546.45,230.35 L546.95,230.35 L547.45,230.35 L547.95,230.35 L548.45,230.35 L548.95,230.35 L549.45,230.35 L549.95,230.35 L550.45,230.35 L550.95,230.35 L551.45,230.35 L551.95,230.35 L552.45,230.35 L552.95,230.35 L553.45,230.35 L553.95,230.35 L554.45,230.35 L554.95,230.35 L555.45,230.35 L555.95,230.35 L556.45,230.35 L556.95,230.35 L557.45,230.35 L557.95,230.35 L558.45,230.35 L558.95,230.35 L559.45,230.35 L559.95,230.35 L560.45,230.35 L560.95,230.35 L561.45,230.35 L561.95,230.35 L562.45,230.35 L562.95,230.35 L563.45,230.35 L563.95,230.35 L564.45,230.35 L564.95,230.35 L565.45,230.35 L565.95,230.35 L566.45,230.35 L566.95,230.35 L567.45,230.35 L567.95,230.35 L568.45,230.35 L568.95,230.35 L569.45,230.35 L569.95,230.35 L570.45,230.35 L570.95,230.35 L571.45,230.35 L571.95,230.35 L572.45,230.35 L572.95,230.35 L573.45,230.35 L573.95,230.35 L574.45,230.35 L574.95,230.35 L575.45,230.35 L575.95,230.35 L576.45,230.35 L576.95,230.35 L577.45,230.35 L577.95,230.35 L578.45,230.35 L578.95,230.35 L579.45,230.35 L579.95,230.35 L580.45,230.35 L580.95,230.35 L581.45,230.35 L581.95,230.35 L582.45,230.35 L582.95,230.35 L583.45,230.35 L583.95,230.35 L584.45,230.35 L584.95,230.35 L585.45,230.35 L585.95,230.35 L586.45,230.35 L586.95,230.35 L587.45,230.35 L587.95,230.35 L588.45,230.35 L588.95,230.35 L589.45,230.35 L589.95,230.35 L590.45,230.35 L590.95,230.35 L591.45,230.35 L591.95,230.35 L592.45,230.35 L592.95,230.35 L593.45,230.35 L593.95,230.35 L594.45,230.35 L594.95,230.35 L595.45,230.35 L595.95,230.35 L596.45,230.35 L596.95,230.35 L597.45,230.35 L597.95,230.35 L598.45,230.35 L598.95,230.35 L599.45,230.35 L599.95,230.35 L600.45,230.35 L600.95,230.35 L601.45,230.35 L601.95,230.35 L602.45,230.35 L602.95,230.35 L603.45,230.35 L603.95,230.35 L604.45,230.35 L604.95,230.35 L605.45,230.35 L605.95,230.35 L606.45,230.35 L606.95,230.35 L607.45,230.35 L607.95,230.35 L608.45,230.35 L608.95,230.35 L609.45,230.35 L609.95,230.35 L610.45,230.35 L610.95,230.35 L611.45,230.35 L611.95,230.35 L612.45,230.35 L612.95,230.35 L613.45,230.35 L613.95,230.35 L614.45,230.35 L614.95,230.35 L615.45,230.35 L615.95,230.35 L616.45,230.35 L616.95,230.35 L617.45,230.35 L617.95,230.35 L618.45,230.35 L618.95,230.35 L619.45,230.35 L619.95,230.35 L620.45,230.35 L620.95,230.35 L621.45,230.35 L621.95,230.35 L622.45,230.35 L622.95,230.35 L623.45,230.35 L623.95,230.35 L624.45,230.35 L624.95,230.35 L625.45,230.35 L625.95,230.35 L626.45,230.35 L626.95,230.35 L627.45,230.35 L627.95,230.35 L628.45,230.35 L628.95,230.35 L629.45,230.35 L629.95,230.35 L630.45,230.35 L630.95,230.35 L631.45,230.35 L631.95,230.35 L632.45,230.35 L632.95,230.35 L633.45,230.35 L633.95,230.35 L634.45,230.35 L634.95,230.35 L635.45,230.35 L635.95,230.35 L636.45,230.35 L636.95,230.35 L637.45,230.35 L637.95,230.35 L638.45,230.35 L638.95,230.35 L639.45,230.35 L639.95,230.35 L640.45,230.35 L640.95,230.35 L641.45,230.35 L641.95,230.35 L642.45,230.35 L642.95,230.35 L643.45,230.35 L643.95,230.35 L644.45,230.35 L644.95,230.35 L645.45,230.35 L645.95,230.35 L646.45,230.35 L646.95,230.35 L647.45,230.35 L647.95,230.35 L648.45,230.35 L648.95,230.35 L649.45,230.35 L649.95,230.35 L650.45,230.35 L650.95,230.35 L651.45,230.35 L651.95,230.35 L652.45,230.35 L652.95,230.35 L653.45,230.35 L653.95,230.35 L654.45,230.35 L654.95,230.35 L655.45,230.35 L655.95,230.35 L656.45,230.35 L656.95,230.35 L657.45,230.35 L657.95,230.35 L658.45,230.35 L658.95,230.35 L659.45,230.35 L659.95,230.35 L660.45,230.35 L660.95,230.35 L661.45,230.35 L661.95,230.35 L662.45,230.35 L662.95,230.35 L663.45,230.35 L663.95,230.35 L664.45,230.35 L664.95,230.35 L665.45,230.35 L665.95,230.35 L666.45,230.35 L666.95,230.35 L667.45,230.35 L667.95,230.35 L668.45,230.35 L668.95,230.35 L669.45,230.35 L669.95,230.35 L670.45,230.35 L670.95,230.35 L671.45,230.35 L671.95,230.35 L672.45,230.35 L672.95,230.35 L673.45,230.35 L673.95,230.35 L674.45,230.35 L674.95,230.35 L675.45,230.35 L675.95,230.35 L676.45,230.35 L676.95,230.35 L677.45,230.35 L677.95,230.35 L678.45,230.35 L678.95,230.35 L679.45,230.35 L679.95,230.35 L680.45,230.35 L680.95,230.35 L681.45,230.35 L681.95,230.35 L682.45,230.35" stroke="#ff0000" stroke-dasharray="6.7 9.8" stroke-dashoffset="7.55"/>
<path d="M402.95,230.35 L403.45,230.35 L403.95,230.35 L404.45,230.35 L404.95,230.35 L405.45,230.35 L405.95,230.35 L406.45,230.35 L406.95,230.35 L407.45,230.35 L407.95,230.35 L408.45,230.35 L408.95,230.35 L409.45,230.35 L409.95,230.35 L410.45,229.63 L410.95,221.57 L411.45,213.68 L411.95,205.95 L412.45,198.38 L412.95,190.96 L413.45,183.71 L413.95,176.62 L414.45,169.68 L414.95,162.91 L415.45,156.29 L415.95,149.83 L416.45,143.53 L416.95,137.39 L417.45,131.41 L417.95,125.58 L418.45,119.91 L418.95,114.39 L419.45,109.04 L419.95,103.83 L420.45,98.78 L420.95,93.89 L421.45,89.15 L421.95,84.56 L422.45,80.13 L422.95,75.84 L423.45,71.71 L423.95,67.73 L424.45,63.9 L424.95,60.21 L425.45,56.67 L425.95,53.29 L426.45,50.04 L426.95,46.94 L427.45,43.99 L427.95,41.17 L428.45,38.5 L428.95,35.97 L429.45,33.57 L429.95,31.31 L430.45,29.19 L430.95,27.2 L431.45,25.33 L431.95,23.6 L432.45,22 L432.95,20.51 L433.45,19.15 L433.95,17.91 L434.45,16.78 L434.95,15.77 L435.45,14.86 L435.95,14.07 L436.45,13.37 L436.95,12.78 L437.45,12.27 L437.95,11.87 L438.45,11.54 L438.95,11.3 L439.45,11.14 L439.95,11.05 L440.45,11.03 L440.95,11.08 L441.45,11.18 L441.95,11.35 L442.45,11.56 L442.95,11.81 L443.45,12.11 L443.95,12.45 L444.45,12.82 L444.95,13.21 L445.45,13.64 L445.95,14.09 L446.45,14.55 L446.95,15.03 L447.45,15.53 L447.95,16.04 L448.45,16.56 L448.95,17.08 L449.45,17.61 L449.95,18.15 L450.45,18.69 L450.95,19.24 L451.45,19.79 L451.95,20.34 L452.45,20.89 L452.95,21.44 L453.45,22 L453.95,22.55 L454.45,23.11 L454.95,23.66 L455.45,24.22 L455.95,24.77 L456.45,25.33 L456.95,25.88 L457.45,26.44 L457.95,27 L458.45,27.55 L458.95,28.11 L459.45,28.67 L459.95,29.22 L460.45,29.78 L460.95,30.33 L461.45,30.89 L461.95,31.45 L462.45,32 L462.95,32.56 L463.45,33.12 L463.95,33.67 L464.45,34.23 L464.95,34.78 L465.45,35.34 L465.95,35.9 L466.45,36.45 L466.95,37.01 L467.45,37.57 L467.95,38.12 L468.45,38.68 L468.95,39.23 L469.45,39.79 L469.95,40.35 L470.45,40.9 L470.95,41.46 L471.45,42.02 L471.95,42.57 L472.45,43.13 L472.95,43.68 L473.45,44.24 L473.95,44.8 L474.45,45.35 L474.95,45.91 L475.45,46.47 L475.95,47.02 L476.45,47.58 L476.95,48.13 L477.45,48.69 L477.95,49.25 L478.45,49.8 L478.95,50.36 L479.45,50.92 L479.95,51.47 L480.45,52.03 L480.95,52.58 L481.45,53.14 L481.95,53.7 L482.45,54.25 L482.95,54.81 L483.45,55.37 L483.95,55.92 L484.45,56.48 L484.95,57.03 L485.45,57.59 L485.95,58.15 L486.45,58.7 L486.95,59.26 L487.45,59.82 L487.95,60.37 L488.45,60.93 L488.95,61.48 L489.45,62.04 L489.95,62.6 L490.45,63.15 L490.95,63.71 L491.45,64.27 L491.95,64.82 L492.45,65.38 L492.95,65.93 L493.45,66.49 L493.95,67.05 L494.45,67.6 L494.95,68.16 L495.45,68.72 L495.95,69.27 L496.45,69.83 L496.95,70.38 L497.45,70.94 L497.95,71.5 L498.45,72.05 L498.95,72.61 L499.45,73.17 L499.95,73.72 L500.45,74.28 L500.95,74.83 L501.45,75.39 L501.95,75.95 L502.45,76.5 L502.95,77.06 L503.45,77.62 L503.95,78.17 L504.45,78.73 L504.95,79.28 L505.45,79.84 L505.95,80.4 L506.45,80.95 L506.95,81.51 L507.45,82.07 L507.95,82.62 L508.45,83.18 L508.95,83.73 L509.45,84.29 L509.95,84.85 L510.45,85.4 L510.95,85.96 L511.45,86.52 L511.95,87.07 L512.45,87.63 L512.95,88.18 L513.45,88.74 L513.95,89.3 L514.45,89.85 L514.95,90.41 L515.45,90.97 L515.95,91.52 L516.45,92.08 L516.95,92.63 L517.45,93.19 L517.95,93.75 L518.45,94.3 L518.95,94.86 L519.45,95.42 L519.95,95.97 L520.45,96.53 L520.95,97.08 L521.45,97.64 L521.95,98.2 L522.45,98.75 L522.95,99.31 L523.45,99.87 L523.95,100.42 L524.45,100.98 L524.95,101.53 L525.45,102.09 L525.95,102.65 L526.45,103.2 L526.95,103.76 L527.45,104.32 L527.95,104.87 L528.45,105.43 L528.95,105.98 L529.45,106.54 L529.95,107.1 L530.45,107.65 L530.95,108.21 L531.45,108.77 L531.95,109.32 L532.45,109.88 L532.95,110.43 L533.45,110.99 L533.95,111.55 L534.45,112.1 L534.95,112.66 L535.45,113.22 L535.95,113.77 L536.45,114.33 L536.95,114.88 L537.45,115.44 L537.95,116 L538.45,116.55 L538.95,117.11 L539.45,117.67 L539.95,118.22 L540.45,118.78 L540.95,119.33 L541.45,119.89 L541.95,120.45 L542.45,121 L542.95,121.56 L543.45,122.12 L543.95,122.67 L544.45,123.23 L544.95,123.78 L545.45,124.34 L545.95,124.9 L546.45,125.45 L546.95,126.01 L547.45,126.57 L547.95,127.12 L548.45,127.68 L548.95,128.23 L549.45,128.79 L549.95,129.35 L550.45,129.9 L550.95,130.46 L551.45,131.02 L551.95,131.57 L552.45,132.13 L552.95,132.68 L553.45,133.24 L553.95,133.8 L554.45,134.35 L554.95,134.91 L555.45,135.47 L555.95,136.02 L556.45,136.58 L556.95,137.13 L557.45,137.69 L557.95,138.25 L558.45,138.8 L558.95,139.36 L559.45,139.92 L559.95,140.47 L560.45,141.03 L560.95,141.58 L561.45,142.14 L561.95,142.7 L562.45,143.25 L562.95,143.81 L563.45,144.37 L563.95,144.92 L564.45,145.48 L564.95,146.03 L565.45,146.59 L565.95,147.15 L566.45,147.7 L566.95,148.26 L567.45,148.82 L567.95,149.37 L568.45,149.93 L568.95,150.48 L569.45,151.04 L569.95,151.6 L570.45,152.15 L570.95,152.71 L571.45,153.27 L571.95,153.82 L572.45,154.38 L572.95,154.93 L573.45,155.49 L573.95,156.05 L574.45,156.6 L574.95,157.16 L575.45,157.72 L575.95,158.27 L576.45,158.83 L576.95,159.38 L577.45,159.94 L577.95,160.5 L578.45,161.05 L578.95,161.61 L579.45,162.17 L579.95,162.72 L580.45,163.28 L580.95,163.83 L581.45,164.39 L581.95,164.95 L582.45,165.5 L582.95,166.06 L583.45,166.62 L583.95,167.17 L584.45,167.73 L584.95,168.28 L585.45,168.84 L585.95,169.4 L586.45,169.95 L586.95,170.51 L587.45,171.07 L587.95,171.62 L588.45,172.18 L588.95,172.73 L589.45,173.29 L589.95,173.85 L590.45,174.4 L590.95,174.96 L591.45,175.52 L591.95,176.07 L592.45,176.63 L592.95,177.18 L593.45,177.74 L593.95,178.3 L594.45,178.85 L594.95,179.41 L595.45,179.97 L595.95,180.52 L596.45,181.08 L596.95,181.63 L597.45,182.19 L597.95,182.75 L598.45,183.3 L598.95,183.86 L599.45,184.42 L599.95,184.97 L600.45,185.53 L600.95,186.08 L601.45,186.64 L601.95,187.2 L602.45,187.75 L602.95,188.31 L603.45,188.87 L603.95,189.42 L604.45,189.98 L604.95,190.53 L605.45,191.09 L605.95,191.65 L606.45,192.2 L606.95,192.76 L607.45,193.32 L607.95,193.87 L608.45,194.43 L608.95,194.98 L609.45,195.54 L609.95,196.1 L610.45,196.65 L610.95,197.21 L611.45,197.77 L611.95,198.32 L612.45,198.88 L612.95,199.43 L613.45,199.99 L613.95,200.55 L614.45,201.1 L614.95,201.66 L615.45,202.22 L615.95,202.77 L616.45,203.33 L616.95,203.88 L617.45,204.44 L617.95,205 L618.45,205.55 L618.95,206.11 L619.45,206.67 L619.95,207.22 L620.45,207.78 L620.95,208.33 L621.45,208.89 L621.95,209.45 L622.45,210 L622.95,210.56 L623.45,211.12 L623.95,211.67 L624.45,212.23 L624.95,212.78 L625.45,213.34 L625.95,213.9 L626.45,214.45 L626.95,215.01 L627.45,215.57 L627.95,216.12 L628.45,216.68 L628.95,217.23 L629.45,217.79 L629.95,218.35 L630.45,218.9 L630.95,219.46 L631.45,220.02 L631.95,220.57 L632.45,221.13 L632.95,221.68 L633.45,222.24 L633.95,222.8 L634.45,223.35 L634.95,223.91 L635.45,224.47 L635.95,225.02 L636.45,225.58 L636.95,226.13 L637.45,226.69 L637.95,227.25 L638.45,227.8 L638.95,228.36 L639.45,228.92 L639.95,229.47 L640.45,230.03 L640.95,230.35 L641.45,230.35 L641.95,230.35 L642.45,230.35 L642.95,230.35 L643.45,230.35 L643.95,230.35 L644.45,230.35 L644.95,230.35 L645.45,230.35 L645.95,230.35 L646.45,230.35 L646.95,230.35 L647.45,230.35 L647.95,230.35 L648.45,230.35 L648.95,230.35 L649.45,230.35 L649.95,230.35 L650.45,230.35 L650.95,230.35 L651.45,230.35 L651.95,230.35 L652.45,230.35 L652.95,230.35 L653.45,230.35 L653.95,230.35 L654.45,230.35 L654.95,230.35 L655.45,230.35 L655.95,230.35 L656.45,230.35 L656.95,230.35 L657.45,230.35 L657.95,230.35 L658.45,230.35 L658.95,230.35 L659.45,230.35 L659.95,230.35 L660.45,230.35 L660.95,230.35 L661.45,230.35 L661.95,230.35 L662.45,230.35 L662.95,230.35 L663.45,230.35 L663.95,230.35 L664.45,230.35 L664.95,230.35 L665.45,230.35 L665.95,230.35 L666.45,230.35 L666.95,230.35 L667.45,230.35 L667.95,230.35 L668.45,230.35 L668.95,230.35 L669.45,230.35 L669.95,230.35 L670.45,230.35 L670.95,230.35 L671.45,230.35 L671.95,230.35 L672.45,230.35 L672.95,230.35 L673.45,230.35 L673.95,230.35 L674.45,230.35 L674.95,230.35 L675.45,230.35 L675.95,230.35 L676.45,230.35 L676.95,230.35 L677.45,230.35 L677.95,230.35 L678.45,230.35 L678.95,230.35 L679.45,230.35 L679.95,230.35 L680.45,230.35 L680.95,230.35 L681.45,230.35 L681.95,230.35 L682.45,230.35" stroke="#0000ff" stroke-dasharray="6.7 9.8" stroke-dashoffset="13.57"/>
<path d="M402.95,230.35 L403.45,230.35 L403.95,230.35 L404.45,230.35 L404.95,230.35 L405.45,230.35 L405.95,230.35 L406.45,230.35 L406.95,230.35 L407.45,230.35 L407.95,230.35 L408.45,230.35 L408.95,230.35 L409.45,230.35 L409.95,230.35 L410.45,230.35 L410.95,230.35 L411.45,230.35 L411.95,230.35 L412.45,230.35 L412.95,230.35 L413.45,230.35 L413.95,230.35 L414.45,230.35 L414.95,230.35 L415.45,230.35 L415.95,230.35 L416.45,223.58 L416.95,216.77 L417.45,210.14 L417.95,203.68 L418.45,197.4 L418.95,191.3 L419.45,185.37 L419.95,179.62 L420.45,174.05 L420.95,168.64 L421.45,163.42 L421.95,158.36 L422.45,153.48 L422.95,148.77 L423.45,144.22 L423.95,139.85 L424.45,135.65 L424.95,131.61 L425.45,127.74 L425.95,124.03 L426.45,120.49 L426.95,117.11 L427.45,113.89 L427.95,110.82 L428.45,107.92 L428.95,105.17 L429.45,102.57 L429.95,100.12 L430.45,97.82 L430.95,95.66 L431.45,93.65 L431.95,91.78 L432.45,90.04 L432.95,88.44 L433.45,86.97 L433.95,85.63 L434.45,84.4 L434.95,83.3 L435.45,82.31 L435.95,81.43 L436.45,80.65 L436.95,79.97 L437.45,79.39 L437.95,78.9 L438.45,78.48 L438.95,78.15 L439.45,77.89 L439.95,77.7 L440.45,77.56 L440.95,77.49 L441.45,77.46 L441.95,77.48 L442.45,77.54 L442.95,77.63 L443.45,77.75 L443.95,77.9 L444.45,78.07 L444.95,78.27 L445.45,78.47 L445.95,78.7 L446.45,78.93 L446.95,79.17 L447.45,79.42 L447.95,79.67 L448.45,79.93 L448.95,80.19 L449.45,80.46 L449.95,80.72 L450.45,80.99 L450.95,81.26 L451.45,81.53 L451.95,81.8 L452.45,82.07 L452.95,82.34 L453.45,82.62 L453.95,82.89 L454.45,83.16 L454.95,83.43 L455.45,83.71 L455.95,83.98 L456.45,84.25 L456.95,84.52 L457.45,84.79 L457.95,85.07 L458.45,85.34 L458.95,85.61 L459.45,85.88 L459.95,86.16 L460.45,86.43 L460.95,86.7 L461.45,86.97 L461.95,87.25 L462.45,87.52 L462.95,87.79 L463.45,88.06 L463.95,88.34 L464.45,88.61 L464.95,88.88 L465.45,89.15 L465.95,89.42 L466.45,89.7 L466.95,89.97 L467.45,90.24 L467.95,90.51 L468.45,90.79 L468.95,91.06 L469.45,91.33 L469.95,91.6 L470.45,91.88 L470.95,92.15 L471.45,92.42 L471.95,92.69 L472.45,92.97 L472.95,93.24 L473.45,93.51 L473.95,93.78 L474.45,94.06 L474.95,94.33 L475.45,94.6 L475.95,94.87 L476.45,95.14 L476.95,95.42 L477.45,95.69 L477.95,95.96 L478.45,96.23 L478.95,96.51 L479.45,96.78 L479.95,97.05 L480.45,97.32 L480.95,97.6 L481.45,97.87 L481.95,98.14 L482.45,98.41 L482.95,98.69 L483.45,98.96 L483.95,99.23 L484.45,99.5 L484.95,99.78 L485.45,100.05 L485.95,100.32 L486.45,100.59 L486.95,100.86 L487.45,101.14 L487.95,101.41 L488.45,101.68 L488.95,101.95 L489.45,102.23 L489.95,102.5 L490.45,102.77 L490.95,103.04 L491.45,103.32 L491.95,103.59 L492.45,103.86 L492.95,104.13 L493.45,104.41 L493.95,104.68 L494.45,104.95 L494.95,105.22 L495.45,105.5 L495.95,105.77 L496.45,106.04 L496.95,106.31 L497.45,106.58 L497.95,106.86 L498.45,107.13 L498.95,107.4 L499.45,107.67 L499.95,107.95 L500.45,108.22 L500.95,108.49 L501.45,108.76 L501.95,109.04 L502.45,109.31 L502.95,109.58 L503.45,109.85 L503.95,110.13 L504.45,110.4 L504.95,110.67 L505.45,110.94 L505.95,111.22 L506.45,111.49 L506.95,111.76 L507.45,112.03 L507.95,112.3 L508.45,112.58 L508.95,112.85 L509.45,113.12 L509.95,113.39 L510.45,113.67 L510.95,113.94 L511.45,114.21 L511.95,114.48 L512.45,114.76 L512.95,115.03 L513.45,115.3 L513.95,115.57 L514.45,115.85 L514.95,116.12 L515.45,116.39 L515.95,116.66 L516.45,116.94 L516.95,117.21 L517.45,117.48 L517.95,117.75 L518.45,118.03 L518.95,118.3 L519.45,118.57 L519.95,118.84 L520.45,119.11 L520.95,119.39 L521.45,119.66 L521.95,119.93 L522.45,120.2 L522.95,120.48 L523.45,120.75 L523.95,121.02 L524.45,121.29 L524.95,121.57 L525.45,121.84 L525.95,122.11 L526.45,122.38 L526.95,122.66 L527.45,122.93 L527.95,123.2 L528.45,123.47 L528.95,123.75 L529.45,124.02 L529.95,124.29 L530.45,124.56 L530.95,124.83 L531.45,125.11 L531.95,125.38 L532.45,125.65 L532.95,125.92 L533.45,126.2 L533.95,126.47 L534.45,126.74 L534.95,127.01 L535.45,127.29 L535.95,127.56 L536.45,127.83 L536.95,128.1 L537.45,128.38 L537.95,128.65 L538.45,128.92 L538.95,129.19 L539.45,129.47 L539.95,129.74 L540.45,130.01 L540.95,130.28 L541.45,130.55 L541.95,130.83 L542.45,131.1 L542.95,131.37 L543.45,131.64 L543.95,131.92 L544.45,132.19 L544.95,132.46 L545.45,132.73 L545.95,133.01 L546.45,133.28 L546.95,133.55 L547.45,133.82 L547.95,134.1 L548.45,134.37 L548.95,134.64 L549.45,134.91 L549.95,135.19 L550.45,135.46 L550.95,135.73 L551.45,136 L551.95,136.27 L552.45,136.55 L552.95,136.82 L553.45,137.09 L553.95,137.36 L554.45,137.64 L554.95,137.91 L555.45,138.18 L555.95,138.45 L556.45,138.73 L556.95,139 L557.45,139.27 L557.95,139.54 L558.45,139.82 L558.95,140.09 L559.45,140.36 L559.95,140.63 L560.45,140.91 L560.95,141.18 L561.45,141.45 L561.95,141.72 L562.45,141.99 L562.95,142.27 L563.45,142.54 L563.95,142.81 L564.45,143.08 L564.95,143.36 L565.45,143.63 L565.95,143.9 L566.45,144.17 L566.95,144.45 L567.45,144.72 L567.95,144.99 L568.45,145.26 L568.95,145.54 L569.45,145.81 L569.95,146.08 L570.45,146.35 L570.95,146.63 L571.45,146.9 L571.95,147.17 L572.45,147.44 L572.95,147.71 L573.45,147.99 L573.95,148.26 L574.45,148.53 L574.95,148.8 L575.45,149.08 L575.95,149.35 L576.45,149.62 L576.95,149.89 L577.45,150.17 L577.95,150.44 L578.45,150.71 L578.95,150.98 L579.45,151.26 L579.95,151.53 L580.45,151.8 L580.95,152.07 L581.45,152.35 L581.95,152.62 L582.45,152.89 L582.95,153.16 L583.45,153.43 L583.95,153.71 L584.45,153.98 L584.95,154.25 L585.45,154.52 L585.95,154.8 L586.45,155.07 L586.95,155.34 L587.45,155.61 L587.95,155.89 L588.45,156.16 L588.95,156.43 L589.45,156.7 L589.95,156.98 L590.45,157.25 L590.95,157.52 L591.45,157.79 L591.95,158.07 L592.45,158.34 L592.95,158.61 L593.45,158.88 L593.95,159.15 L594.45,159.43 L594.95,159.7 L595.45,159.97 L595.95,160.24 L596.45,160.52 L596.95,160.79 L597.45,161.06 L597.95,161.33 L598.45,161.61 L598.95,161.88 L599.45,162.15 L599.95,162.42 L600.45,162.7 L600.95,162.97 L601.45,163.24 L601.95,163.51 L602.45,163.79 L602.95,164.06 L603.45,164.33 L603.95,164.6 L604.45,164.87 L604.95,165.15 L605.45,165.42 L605.95,165.69 L606.45,165.96 L606.95,166.24 L607.45,166.51 L607.95,166.78 L608.45,167.05 L608.95,167.33 L609.45,167.6 L609.95,167.87 L610.45,168.14 L610.95,168.42 L611.45,168.69 L611.95,168.96 L612.45,169.23 L612.95,169.51 L613.45,169.78 L613.95,170.05 L614.45,170.32 L614.95,170.59 L615.45,170.87 L615.95,171.14 L616.45,171.41 L616.95,171.68 L617.45,171.96 L617.95,172.23 L618.45,172.5 L618.95,172.77 L619.45,173.05 L619.95,173.32 L620.45,173.59 L620.95,173.86 L621.45,174.14 L621.95,174.41 L622.45,174.68 L622.95,174.95 L623.45,175.23 L623.95,175.5 L624.45,175.77 L624.95,176.04 L625.45,176.31 L625.95,176.59 L626.45,176.86 L626.95,177.13 L627.45,177.4 L627.95,177.68 L628.45,177.95 L628.95,178.22 L629.45,178.49 L629.95,178.77 L630.45,179.04 L630.95,179.31 L631.45,179.58 L631.95,179.86 L632.45,180.13 L632.95,180.4 L633.45,180.67 L633.95,180.95 L634.45,181.22 L634.95,181.49 L635.45,181.76 L635.95,182.03 L636.45,182.31 L636.95,182.58 L637.45,182.85 L637.95,183.12 L638.45,183.4 L638.95,183.67 L639.45,183.94 L639.95,184.21 L640.45,184.49 L640.95,184.76 L641.45,185.03 L641.95,185.3 L642.45,185.58 L642.95,185.85 L643.45,186.12 L643.95,186.39 L644.45,186.67 L644.95,186.94 L645.45,187.21 L645.95,187.48 L646.45,187.75 L646.95,188.03 L647.45,188.3 L647.95,188.57 L648.45,188.84 L648.95,189.12 L649.45,189.39 L649.95,189.66 L650.45,189.93 L650.95,190.21 L651.45,190.48 L651.95,190.75 L652.45,191.02 L652.95,191.3 L653.45,191.57 L653.95,191.84 L654.45,192.11 L654.95,192.39 L655.45,192.66 L655.95,192.93 L656.45,193.2 L656.95,193.47 L657.45,193.75 L657.95,194.02 L658.45,194.29 L658.95,194.56 L659.45,194.84 L659.95,195.11 L660.45,195.38 L660.95,195.65 L661.45,195.93 L661.95,196.2 L662.45,196.47 L662.95,196.74 L663.45,197.02 L663.95,197.29 L664.45,197.56 L664.95,197.83 L665.45,198.11 L665.95,198.38 L666.45,198.65 L666.95,198.92 L667.45,199.19 L667.95,199.47 L668.45,199.74 L668.95,200.01 L669.45,200.28 L669.95,200.56 L670.45,200.83 L670.95,201.1 L671.45,201.37 L671.95,201.65 L672.45,201.92 L672.95,202.19 L673.45,202.46 L673.95,202.74 L674.45,203.01 L674.95,203.28 L675.45,203.55 L675.95,203.83 L676.45,204.1 L676.95,204.37 L677.45,204.64 L677.95,204.91 L678.45,205.19 L678.95,205.46 L679.45,205.73 L679.95,206 L680.45,206.28 L680.95,206.55 L681.45,206.82 L681.95,207.09 L682.45,207.37" stroke="#ff00ff" stroke-dasharray="6.7 9.8" stroke-dashoffset="10.97"/>
</g>
<g stroke="#000" fill="none">
<path d="M404.95,4.35 H680.45 V225.35 H404.95 Z" stroke-width="1.2"/>
<path d="M404.95,225.35 v2.3 M404.95,4.35 v-2.3" stroke-width="1"/>
<path d="M432.5,225.35 v4.3 M432.5,4.35 v-4.3" stroke-width="1"/>
<path d="M460.05,225.35 v2.3 M460.05,4.35 v-2.3" stroke-width="1"/>
<path d="M487.6,225.35 v4.3 M487.6,4.35 v-4.3" stroke-width="1"/>
<path d="M515.15,225.35 v2.3 M515.15,4.35 v-2.3" stroke-width="1"/>
<path d="M542.7,225.35 v4.3 M542.7,4.35 v-4.3" stroke-width="1"/>
<path d="M570.25,225.35 v2.3 M570.25,4.35 v-2.3" stroke-width="1"/>
<path d="M597.8,225.35 v4.3 M597.8,4.35 v-4.3" stroke-width="1"/>
<path d="M625.35,225.35 v2.3 M625.35,4.35 v-2.3" stroke-width="1"/>
<path d="M652.9,225.35 v4.3 M652.9,4.35 v-4.3" stroke-width="1"/>
<path d="M680.45,225.35 v2.3 M680.45,4.35 v-2.3" stroke-width="1"/>
<path d="M404.95,223.31 h-2.3 M680.45,223.31 h2.3" stroke-width="1"/>
<path d="M404.95,221.35 h-4.3 M680.45,221.35 h4.3" stroke-width="1"/>
<path d="M404.95,208.47 h-2.3 M680.45,208.47 h2.3" stroke-width="1"/>
<path d="M404.95,200.94 h-2.3 M680.45,200.94 h2.3" stroke-width="1"/>
<path d="M404.95,195.59 h-2.3 M680.45,195.59 h2.3" stroke-width="1"/>
<path d="M404.95,191.45 h-2.3 M680.45,191.45 h2.3" stroke-width="1"/>
<path d="M404.95,188.06 h-2.3 M680.45,188.06 h2.3" stroke-width="1"/>
<path d="M404.95,185.2 h-2.3 M680.45,185.2 h2.3" stroke-width="1"/>
<path d="M404.95,182.72 h-2.3 M680.45,182.72 h2.3" stroke-width="1"/>
<path d="M404.95,180.53 h-2.3 M680.45,180.53 h2.3" stroke-width="1"/>
<path d="M404.95,178.57 h-4.3 M680.45,178.57 h4.3" stroke-width="1"/>
<path d="M404.95,165.69 h-2.3 M680.45,165.69 h2.3" stroke-width="1"/>
<path d="M404.95,158.16 h-2.3 M680.45,158.16 h2.3" stroke-width="1"/>
<path d="M404.95,152.81 h-2.3 M680.45,152.81 h2.3" stroke-width="1"/>
<path d="M404.95,148.67 h-2.3 M680.45,148.67 h2.3" stroke-width="1"/>
<path d="M404.95,145.28 h-2.3 M680.45,145.28 h2.3" stroke-width="1"/>
<path d="M404.95,142.42 h-2.3 M680.45,142.42 h2.3" stroke-width="1"/>
<path d="M404.95,139.94 h-2.3 M680.45,139.94 h2.3" stroke-width="1"/>
<path d="M404.95,137.75 h-2.3 M680.45,137.75 h2.3" stroke-width="1"/>
<path d="M404.95,135.79 h-4.3 M680.45,135.79 h4.3" stroke-width="1"/>
<path d="M404.95,122.91 h-2.3 M680.45,122.91 h2.3" stroke-width="1"/>
<path d="M404.95,115.38 h-2.3 M680.45,115.38 h2.3" stroke-width="1"/>
<path d="M404.95,110.03 h-2.3 M680.45,110.03 h2.3" stroke-width="1"/>
<path d="M404.95,105.89 h-2.3 M680.45,105.89 h2.3" stroke-width="1"/>
<path d="M404.95,102.5 h-2.3 M680.45,102.5 h2.3" stroke-width="1"/>
<path d="M404.95,99.64 h-2.3 M680.45,99.64 h2.3" stroke-width="1"/>
<path d="M404.95,97.16 h-2.3 M680.45,97.16 h2.3" stroke-width="1"/>
<path d="M404.95,94.97 h-2.3 M680.45,94.97 h2.3" stroke-width="1"/>
<path d="M404.95,93.01 h-4.3 M680.45,93.01 h4.3" stroke-width="1"/>
<path d="M404.95,80.13 h-2.3 M680.45,80.13 h2.3" stroke-width="1"/>
<path d="M404.95,72.6 h-2.3 M680.45,72.6 h2.3" stroke-width="1"/>
<path d="M404.95,67.25 h-2.3 M680.45,67.25 h2.3" stroke-width="1"/>
<path d="M404.95,63.11 h-2.3 M680.45,63.11 h2.3" stroke-width="1"/>
<path d="M404.95,59.72 h-2.3 M680.45,59.72 h2.3" stroke-width="1"/>
<path d="M404.95,56.86 h-2.3 M680.45,56.86 h2.3" stroke-width="1"/>
<path d="M404.95,54.38 h-2.3 M680.45,54.38 h2.3" stroke-width="1"/>
<path d="M404.95,52.19 h-2.3 M680.45,52.19 h2.3" stroke-width="1"/>
<path d="M404.95,50.23 h-4.3 M680.45,50.23 h4.3" stroke-width="1"/>
<path d="M404.95,37.35 h-2.3 M680.45,37.35 h2.3" stroke-width="1"/>
<path d="M404.95,29.82 h-2.3 M680.45,29.82 h2.3" stroke-width="1"/>
<path d="M404.95,24.47 h-2.3 M680.45,24.47 h2.3" stroke-width="1"/>
<path d="M404.95,20.33 h-2.3 M680.45,20.33 h2.3" stroke-width="1"/>
<path d="M404.95,16.94 h-2.3 M680.45,16.94 h2.3" stroke-width="1"/>
<path d="M404.95,14.08 h-2.3 M680.45,14.08 h2.3" stroke-width="1"/>
<path d="M404.95,11.6 h-2.3 M680.45,11.6 h2.3" stroke-width="1"/>
<path d="M404.95,9.41 h-2.3 M680.45,9.41 h2.3" stroke-width="1"/>
<path d="M404.95,7.45 h-4.3 M680.45,7.45 h4.3" stroke-width="1"/>
</g>
<text x="396.95" y="224.95" font-size="11.2" text-anchor="end"> </text>
<text x="396.95" y="182.17" font-size="11.2" text-anchor="end"> 0</text>
<text x="396.95" y="139.39" font-size="11.2" text-anchor="end"> 00</text>
<text x="396.95" y="96.61" font-size="11.2" text-anchor="end"> 000</text>
<text x="396.95" y="53.83" font-size="11.2" text-anchor="end"> 0000</text>
<text x="396.95" y="11.05" font-size="11.2" text-anchor="end"> 00000</text>
<text x="432.5" y="241.8" font-size="11.3" text-anchor="middle">0</text>
<text x="487.6" y="241.8" font-size="11.3" text-anchor="middle"> </text>
<text x="542.7" y="241.8" font-size="11.3" text-anchor="middle">2</text>
<text x="597.8" y="241.8" font-size="11.3" text-anchor="middle">3</text>
<text x="652.9" y="241.8" font-size="11.3" text-anchor="middle">4</text>
<text x="543" y="260" font-size="11.5" text-anchor="middle">Time (ns)</text>
<text transform="translate(8.9,114.6) rotate(-90)" font-size="11.45" text-anchor="middle">Counts/channel</text>
<text transform="translate(355.3,114.6) rotate(-90)" font-size="11.45" text-anchor="middle">Counts/channel</text>
<text transform="translate(3.3,27.1) scale(0.84,1)" font-size="14" font-weight="bold" style="stroke-width:0.55px">a</text>
<text transform="translate(349.1,26.6) scale(0.86,1)" font-size="13.8" font-weight="bold" style="stroke-width:0.55px">b</text>
<path d="M188.7,16.5 h26.8" stroke="#000" stroke-width="1.5"/>
<text x="218.3" y="20.8" font-size="11.6">Spectrum (Sn-doped)</text>
<path d="M189.5,32.4 h7.3 M205.9,32.4 h7.3" stroke="#ff0000" stroke-width="1.7" stroke-linecap="round"/>
<text x="219.7" y="36.6" font-size="11.5"><tspan font-family="Liberation Serif" font-style="italic">τ</tspan><tspan font-size="7" dy="2.8"> </tspan><tspan dy="-2.8" dx="0.9"> = 260( ) ps</tspan></text>
<path d="M189.5,50.3 h7.3 M205.9,50.3 h7.3" stroke="#0000ff" stroke-width="1.7" stroke-linecap="round"/>
<text x="219.7" y="54.5" font-size="11.5"><tspan font-family="Liberation Serif" font-style="italic">τ</tspan><tspan font-size="7" dy="2.8">2</tspan><tspan dy="-2.8" dx="0.9"> = 497(2 ) ps</tspan></text>
<path d="M189.5,68.1 h7.3 M205.9,68.1 h7.3" stroke="#ff00ff" stroke-width="1.7" stroke-linecap="round"/>
<text x="219.7" y="72.3" font-size="11.5"><tspan font-family="Liberation Serif" font-style="italic">τ</tspan><tspan font-size="7" dy="2.8">3</tspan><tspan dy="-2.8" dx="0.9"> = 5.9( ) ns</tspan></text>
<path d="M554.3,14.1 h26.8" stroke="#000" stroke-width="1.5"/>
<text x="583.9" y="18.4" font-size="11.6">Spectrum (CSS)</text>
<path d="M555.1,29.5 h7.3 M571.5,29.5 h7.3" stroke="#ff0000" stroke-width="1.7" stroke-linecap="round"/>
<text x="585.3" y="33.7" font-size="11.5"><tspan font-family="Liberation Serif" font-style="italic">τ</tspan><tspan font-size="7" dy="2.8"> </tspan><tspan dy="-2.8" dx="0.9"> =   0(6) ps</tspan></text>
<path d="M555.1,47.6 h7.3 M571.5,47.6 h7.3" stroke="#0000ff" stroke-width="1.7" stroke-linecap="round"/>
<text x="585.3" y="51.8" font-size="11.5"><tspan font-family="Liberation Serif" font-style="italic">τ</tspan><tspan font-size="7" dy="2.8">2</tspan><tspan dy="-2.8" dx="0.9"> = 305(3) ps</tspan></text>
<path d="M555.1,65.7 h7.3 M571.5,65.7 h7.3" stroke="#ff00ff" stroke-width="1.7" stroke-linecap="round"/>
<text x="585.3" y="69.9" font-size="11.5"><tspan font-family="Liberation Serif" font-style="italic">τ</tspan><tspan font-size="7" dy="2.8">3</tspan><tspan dy="-2.8" dx="0.9"> = 0.62(3) ns</tspan></text>
<g fill="#000" stroke="#000"><path transform="translate(44.82,224.95) scale(0.005469,-0.005469)" d="M763 0L583 0L583 1147C540 1106 483 1065 412 1024C341 983 278 952 223 931L223 1105C323 1152 410 1209 485 1276C560 1343 613 1408 644 1472L763 1472Z" stroke-width="45.7"/><path transform="translate(38.60,182.17) scale(0.005469,-0.005469)" d="M763 0L583 0L583 1147C540 1106 483 1065 412 1024C341 983 278 952 223 931L223 1105C323 1152 410 1209 485 1276C560 1343 613 1408 644 1472L763 1472Z" stroke-width="45.7"/><path transform="translate(32.38,139.39) scale(0.005469,-0.005469)" d="M763 0L583 0L583 1147C540 1106 483 1065 412 1024C341 983 278 952 223 931L223 1105C323 1152 410 1209 485 1276C560 1343 613 1408 644 1472L763 1472Z" stroke-width="45.7"/><path transform="translate(26.16,96.61) scale(0.005469,-0.005469)" d="M763 0L583 0L583 1147C540 1106 483 1065 412 1024C341 983 278 952 223 931L223 1105C323 1152 410 1209 485 1276C560 1343 613 1408 644 1472L763 1472Z" stroke-width="45.7"/><path transform="translate(19.92,53.83) scale(0.005469,-0.005469)" d="M763 0L583 0L583 1147C540 1106 483 1065 412 1024C341 983 278 952 223 931L223 1105C323 1152 410 1209 485 1276C560 1343 613 1408 644 1472L763 1472Z" stroke-width="45.7"/><path transform="translate(13.71,11.05) scale(0.005469,-0.005469)" d="M763 0L583 0L583 1147C540 1106 483 1065 412 1024C341 983 278 952 223 931L223 1105C323 1152 410 1209 485 1276C560 1343 613 1408 644 1472L763 1472Z" stroke-width="45.7"/><path transform="translate(138.55,241.80) scale(0.005518,-0.005518)" d="M763 0L583 0L583 1147C540 1106 483 1065 412 1024C341 983 278 952 223 931L223 1105C323 1152 410 1209 485 1276C560 1343 613 1408 644 1472L763 1472Z" stroke-width="45.3"/><path transform="translate(390.72,224.95) scale(0.005469,-0.005469)" d="M763 0L583 0L583 1147C540 1106 483 1065 412 1024C341 983 278 952 223 931L223 1105C323 1152 410 1209 485 1276C560 1343 613 1408 644 1472L763 1472Z" stroke-width="45.7"/><path transform="translate(384.50,182.17) scale(0.005469,-0.005469)" d="M763 0L583 0L583 1147C540 1106 483 1065 412 1024C341 983 278 952 223 931L223 1105C323 1152 410 1209 485 1276C560 1343 613 1408 644 1472L763 1472Z" stroke-width="45.7"/><path transform="translate(378.28,139.39) scale(0.005469,-0.005469)" d="M763 0L583 0L583 1147C540 1106 483 1065 412 1024C341 983 278 952 223 931L223 1105C323 1152 410 1209 485 1276C560 1343 613 1408 644 1472L763 1472Z" stroke-width="45.7"/><path transform="translate(372.06,96.61) scale(0.005469,-0.005469)" d="M763 0L583 0L583 1147C540 1106 483 1065 412 1024C341 983 278 952 223 931L223 1105C323 1152 410 1209 485 1276C560 1343 613 1408 644 1472L763 1472Z" stroke-width="45.7"/><path transform="translate(365.83,53.83) scale(0.005469,-0.005469)" d="M763 0L583 0L583 1147C540 1106 483 1065 412 1024C341 983 278 952 223 931L223 1105C323 1152 410 1209 485 1276C560 1343 613 1408 644 1472L763 1472Z" stroke-width="45.7"/><path transform="translate(359.61,11.05) scale(0.005469,-0.005469)" d="M763 0L583 0L583 1147C540 1106 483 1065 412 1024C341 983 278 952 223 931L223 1105C323 1152 410 1209 485 1276C560 1343 613 1408 644 1472L763 1472Z" stroke-width="45.7"/><path transform="translate(484.45,241.80) scale(0.005518,-0.005518)" d="M763 0L583 0L583 1147C540 1106 483 1065 412 1024C341 983 278 952 223 931L223 1105C323 1152 410 1209 485 1276C560 1343 613 1408 644 1472L763 1472Z" stroke-width="45.3"/><path transform="translate(223.82,39.40) scale(0.003418,-0.003418)" d="M763 0L583 0L583 1147C540 1106 483 1065 412 1024C341 983 278 952 223 931L223 1105C323 1152 410 1209 485 1276C560 1343 613 1408 644 1472L763 1472Z" stroke-width="73.1"/><path transform="translate(264.74,36.60) scale(0.005615,-0.005615)" d="M763 0L583 0L583 1147C540 1106 483 1065 412 1024C341 983 278 952 223 931L223 1105C323 1152 410 1209 485 1276C560 1343 613 1408 644 1472L763 1472Z" stroke-width="44.5"/><path transform="translate(271.15,54.50) scale(0.005615,-0.005615)" d="M763 0L583 0L583 1147C540 1106 483 1065 412 1024C341 983 278 952 223 931L223 1105C323 1152 410 1209 485 1276C560 1343 613 1408 644 1472L763 1472Z" stroke-width="44.5"/><path transform="translate(261.55,72.30) scale(0.005615,-0.005615)" d="M763 0L583 0L583 1147C540 1106 483 1065 412 1024C341 983 278 952 223 931L223 1105C323 1152 410 1209 485 1276C560 1343 613 1408 644 1472L763 1472Z" stroke-width="44.5"/><path transform="translate(589.42,36.50) scale(0.003418,-0.003418)" d="M763 0L583 0L583 1147C540 1106 483 1065 412 1024C341 983 278 952 223 931L223 1105C323 1152 410 1209 485 1276C560 1343 613 1408 644 1472L763 1472Z" stroke-width="73.1"/><path transform="translate(607.33,33.70) scale(0.005615,-0.005615)" d="M763 0L583 0L583 1147C540 1106 483 1065 412 1024C341 983 278 952 223 931L223 1105C323 1152 410 1209 485 1276C560 1343 613 1408 644 1472L763 1472Z" stroke-width="44.5"/><path transform="translate(613.73,33.70) scale(0.005615,-0.005615)" d="M763 0L583 0L583 1147C540 1106 483 1065 412 1024C341 983 278 952 223 931L223 1105C323 1152 410 1209 485 1276C560 1343 613 1408 644 1472L763 1472Z" stroke-width="44.5"/></g></svg></body></html>
